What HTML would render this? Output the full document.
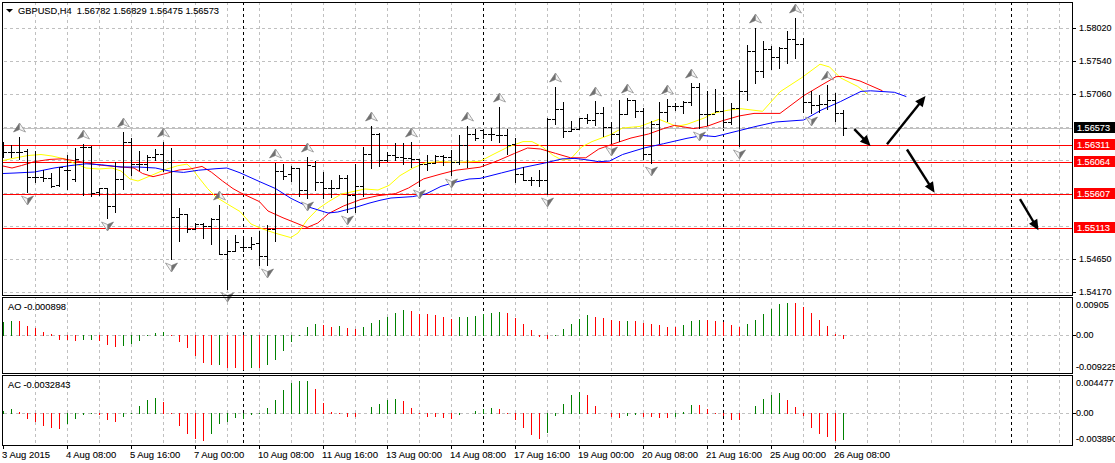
<!DOCTYPE html><html><head><meta charset="utf-8"><style>html,body{margin:0;padding:0;background:#fff;width:1115px;height:463px;overflow:hidden}svg{display:block}text{font-family:"Liberation Sans",sans-serif;font-size:9.3px;fill:#000;stroke:#000;stroke-width:0.1px}</style></head><body>
<svg width="1115" height="463" viewBox="0 0 1115 463">
<rect width="1115" height="463" fill="#fff"/>
<path d="M35.5 3V5M35.5 8V11M35.5 14V17M35.5 20V23M35.5 26V29M35.5 32V35M35.5 38V41M35.5 44V47M35.5 50V53M35.5 56V59M35.5 62V65M35.5 68V71M35.5 74V77M35.5 80V83M35.5 86V89M35.5 92V95M35.5 98V101M35.5 104V107M35.5 110V113M35.5 116V119M35.5 122V125M35.5 128V131M35.5 134V137M35.5 140V143M35.5 146V149M35.5 152V155M35.5 158V161M35.5 164V167M35.5 170V173M35.5 176V179M35.5 182V185M35.5 188V191M35.5 194V197M35.5 200V203M35.5 206V209M35.5 212V215M35.5 218V221M35.5 224V227M35.5 230V233M35.5 236V239M35.5 242V245M35.5 248V251M35.5 254V257M35.5 260V263M35.5 266V269M35.5 272V275M35.5 278V281M35.5 284V287M35.5 290V293M67.5 3V5M67.5 8V11M67.5 14V17M67.5 20V23M67.5 26V29M67.5 32V35M67.5 38V41M67.5 44V47M67.5 50V53M67.5 56V59M67.5 62V65M67.5 68V71M67.5 74V77M67.5 80V83M67.5 86V89M67.5 92V95M67.5 98V101M67.5 104V107M67.5 110V113M67.5 116V119M67.5 122V125M67.5 128V131M67.5 134V137M67.5 140V143M67.5 146V149M67.5 152V155M67.5 158V161M67.5 164V167M67.5 170V173M67.5 176V179M67.5 182V185M67.5 188V191M67.5 194V197M67.5 200V203M67.5 206V209M67.5 212V215M67.5 218V221M67.5 224V227M67.5 230V233M67.5 236V239M67.5 242V245M67.5 248V251M67.5 254V257M67.5 260V263M67.5 266V269M67.5 272V275M67.5 278V281M67.5 284V287M67.5 290V293M99.5 3V5M99.5 8V11M99.5 14V17M99.5 20V23M99.5 26V29M99.5 32V35M99.5 38V41M99.5 44V47M99.5 50V53M99.5 56V59M99.5 62V65M99.5 68V71M99.5 74V77M99.5 80V83M99.5 86V89M99.5 92V95M99.5 98V101M99.5 104V107M99.5 110V113M99.5 116V119M99.5 122V125M99.5 128V131M99.5 134V137M99.5 140V143M99.5 146V149M99.5 152V155M99.5 158V161M99.5 164V167M99.5 170V173M99.5 176V179M99.5 182V185M99.5 188V191M99.5 194V197M99.5 200V203M99.5 206V209M99.5 212V215M99.5 218V221M99.5 224V227M99.5 230V233M99.5 236V239M99.5 242V245M99.5 248V251M99.5 254V257M99.5 260V263M99.5 266V269M99.5 272V275M99.5 278V281M99.5 284V287M99.5 290V293M131.5 3V5M131.5 8V11M131.5 14V17M131.5 20V23M131.5 26V29M131.5 32V35M131.5 38V41M131.5 44V47M131.5 50V53M131.5 56V59M131.5 62V65M131.5 68V71M131.5 74V77M131.5 80V83M131.5 86V89M131.5 92V95M131.5 98V101M131.5 104V107M131.5 110V113M131.5 116V119M131.5 122V125M131.5 128V131M131.5 134V137M131.5 140V143M131.5 146V149M131.5 152V155M131.5 158V161M131.5 164V167M131.5 170V173M131.5 176V179M131.5 182V185M131.5 188V191M131.5 194V197M131.5 200V203M131.5 206V209M131.5 212V215M131.5 218V221M131.5 224V227M131.5 230V233M131.5 236V239M131.5 242V245M131.5 248V251M131.5 254V257M131.5 260V263M131.5 266V269M131.5 272V275M131.5 278V281M131.5 284V287M131.5 290V293M163.5 3V5M163.5 8V11M163.5 14V17M163.5 20V23M163.5 26V29M163.5 32V35M163.5 38V41M163.5 44V47M163.5 50V53M163.5 56V59M163.5 62V65M163.5 68V71M163.5 74V77M163.5 80V83M163.5 86V89M163.5 92V95M163.5 98V101M163.5 104V107M163.5 110V113M163.5 116V119M163.5 122V125M163.5 128V131M163.5 134V137M163.5 140V143M163.5 146V149M163.5 152V155M163.5 158V161M163.5 164V167M163.5 170V173M163.5 176V179M163.5 182V185M163.5 188V191M163.5 194V197M163.5 200V203M163.5 206V209M163.5 212V215M163.5 218V221M163.5 224V227M163.5 230V233M163.5 236V239M163.5 242V245M163.5 248V251M163.5 254V257M163.5 260V263M163.5 266V269M163.5 272V275M163.5 278V281M163.5 284V287M163.5 290V293M195.5 3V5M195.5 8V11M195.5 14V17M195.5 20V23M195.5 26V29M195.5 32V35M195.5 38V41M195.5 44V47M195.5 50V53M195.5 56V59M195.5 62V65M195.5 68V71M195.5 74V77M195.5 80V83M195.5 86V89M195.5 92V95M195.5 98V101M195.5 104V107M195.5 110V113M195.5 116V119M195.5 122V125M195.5 128V131M195.5 134V137M195.5 140V143M195.5 146V149M195.5 152V155M195.5 158V161M195.5 164V167M195.5 170V173M195.5 176V179M195.5 182V185M195.5 188V191M195.5 194V197M195.5 200V203M195.5 206V209M195.5 212V215M195.5 218V221M195.5 224V227M195.5 230V233M195.5 236V239M195.5 242V245M195.5 248V251M195.5 254V257M195.5 260V263M195.5 266V269M195.5 272V275M195.5 278V281M195.5 284V287M195.5 290V293M227.5 3V5M227.5 8V11M227.5 14V17M227.5 20V23M227.5 26V29M227.5 32V35M227.5 38V41M227.5 44V47M227.5 50V53M227.5 56V59M227.5 62V65M227.5 68V71M227.5 74V77M227.5 80V83M227.5 86V89M227.5 92V95M227.5 98V101M227.5 104V107M227.5 110V113M227.5 116V119M227.5 122V125M227.5 128V131M227.5 134V137M227.5 140V143M227.5 146V149M227.5 152V155M227.5 158V161M227.5 164V167M227.5 170V173M227.5 176V179M227.5 182V185M227.5 188V191M227.5 194V197M227.5 200V203M227.5 206V209M227.5 212V215M227.5 218V221M227.5 224V227M227.5 230V233M227.5 236V239M227.5 242V245M227.5 248V251M227.5 254V257M227.5 260V263M227.5 266V269M227.5 272V275M227.5 278V281M227.5 284V287M227.5 290V293M259.5 3V5M259.5 8V11M259.5 14V17M259.5 20V23M259.5 26V29M259.5 32V35M259.5 38V41M259.5 44V47M259.5 50V53M259.5 56V59M259.5 62V65M259.5 68V71M259.5 74V77M259.5 80V83M259.5 86V89M259.5 92V95M259.5 98V101M259.5 104V107M259.5 110V113M259.5 116V119M259.5 122V125M259.5 128V131M259.5 134V137M259.5 140V143M259.5 146V149M259.5 152V155M259.5 158V161M259.5 164V167M259.5 170V173M259.5 176V179M259.5 182V185M259.5 188V191M259.5 194V197M259.5 200V203M259.5 206V209M259.5 212V215M259.5 218V221M259.5 224V227M259.5 230V233M259.5 236V239M259.5 242V245M259.5 248V251M259.5 254V257M259.5 260V263M259.5 266V269M259.5 272V275M259.5 278V281M259.5 284V287M259.5 290V293M291.5 3V5M291.5 8V11M291.5 14V17M291.5 20V23M291.5 26V29M291.5 32V35M291.5 38V41M291.5 44V47M291.5 50V53M291.5 56V59M291.5 62V65M291.5 68V71M291.5 74V77M291.5 80V83M291.5 86V89M291.5 92V95M291.5 98V101M291.5 104V107M291.5 110V113M291.5 116V119M291.5 122V125M291.5 128V131M291.5 134V137M291.5 140V143M291.5 146V149M291.5 152V155M291.5 158V161M291.5 164V167M291.5 170V173M291.5 176V179M291.5 182V185M291.5 188V191M291.5 194V197M291.5 200V203M291.5 206V209M291.5 212V215M291.5 218V221M291.5 224V227M291.5 230V233M291.5 236V239M291.5 242V245M291.5 248V251M291.5 254V257M291.5 260V263M291.5 266V269M291.5 272V275M291.5 278V281M291.5 284V287M291.5 290V293M323.5 3V5M323.5 8V11M323.5 14V17M323.5 20V23M323.5 26V29M323.5 32V35M323.5 38V41M323.5 44V47M323.5 50V53M323.5 56V59M323.5 62V65M323.5 68V71M323.5 74V77M323.5 80V83M323.5 86V89M323.5 92V95M323.5 98V101M323.5 104V107M323.5 110V113M323.5 116V119M323.5 122V125M323.5 128V131M323.5 134V137M323.5 140V143M323.5 146V149M323.5 152V155M323.5 158V161M323.5 164V167M323.5 170V173M323.5 176V179M323.5 182V185M323.5 188V191M323.5 194V197M323.5 200V203M323.5 206V209M323.5 212V215M323.5 218V221M323.5 224V227M323.5 230V233M323.5 236V239M323.5 242V245M323.5 248V251M323.5 254V257M323.5 260V263M323.5 266V269M323.5 272V275M323.5 278V281M323.5 284V287M323.5 290V293M355.5 3V5M355.5 8V11M355.5 14V17M355.5 20V23M355.5 26V29M355.5 32V35M355.5 38V41M355.5 44V47M355.5 50V53M355.5 56V59M355.5 62V65M355.5 68V71M355.5 74V77M355.5 80V83M355.5 86V89M355.5 92V95M355.5 98V101M355.5 104V107M355.5 110V113M355.5 116V119M355.5 122V125M355.5 128V131M355.5 134V137M355.5 140V143M355.5 146V149M355.5 152V155M355.5 158V161M355.5 164V167M355.5 170V173M355.5 176V179M355.5 182V185M355.5 188V191M355.5 194V197M355.5 200V203M355.5 206V209M355.5 212V215M355.5 218V221M355.5 224V227M355.5 230V233M355.5 236V239M355.5 242V245M355.5 248V251M355.5 254V257M355.5 260V263M355.5 266V269M355.5 272V275M355.5 278V281M355.5 284V287M355.5 290V293M387.5 3V5M387.5 8V11M387.5 14V17M387.5 20V23M387.5 26V29M387.5 32V35M387.5 38V41M387.5 44V47M387.5 50V53M387.5 56V59M387.5 62V65M387.5 68V71M387.5 74V77M387.5 80V83M387.5 86V89M387.5 92V95M387.5 98V101M387.5 104V107M387.5 110V113M387.5 116V119M387.5 122V125M387.5 128V131M387.5 134V137M387.5 140V143M387.5 146V149M387.5 152V155M387.5 158V161M387.5 164V167M387.5 170V173M387.5 176V179M387.5 182V185M387.5 188V191M387.5 194V197M387.5 200V203M387.5 206V209M387.5 212V215M387.5 218V221M387.5 224V227M387.5 230V233M387.5 236V239M387.5 242V245M387.5 248V251M387.5 254V257M387.5 260V263M387.5 266V269M387.5 272V275M387.5 278V281M387.5 284V287M387.5 290V293M419.5 3V5M419.5 8V11M419.5 14V17M419.5 20V23M419.5 26V29M419.5 32V35M419.5 38V41M419.5 44V47M419.5 50V53M419.5 56V59M419.5 62V65M419.5 68V71M419.5 74V77M419.5 80V83M419.5 86V89M419.5 92V95M419.5 98V101M419.5 104V107M419.5 110V113M419.5 116V119M419.5 122V125M419.5 128V131M419.5 134V137M419.5 140V143M419.5 146V149M419.5 152V155M419.5 158V161M419.5 164V167M419.5 170V173M419.5 176V179M419.5 182V185M419.5 188V191M419.5 194V197M419.5 200V203M419.5 206V209M419.5 212V215M419.5 218V221M419.5 224V227M419.5 230V233M419.5 236V239M419.5 242V245M419.5 248V251M419.5 254V257M419.5 260V263M419.5 266V269M419.5 272V275M419.5 278V281M419.5 284V287M419.5 290V293M451.5 3V5M451.5 8V11M451.5 14V17M451.5 20V23M451.5 26V29M451.5 32V35M451.5 38V41M451.5 44V47M451.5 50V53M451.5 56V59M451.5 62V65M451.5 68V71M451.5 74V77M451.5 80V83M451.5 86V89M451.5 92V95M451.5 98V101M451.5 104V107M451.5 110V113M451.5 116V119M451.5 122V125M451.5 128V131M451.5 134V137M451.5 140V143M451.5 146V149M451.5 152V155M451.5 158V161M451.5 164V167M451.5 170V173M451.5 176V179M451.5 182V185M451.5 188V191M451.5 194V197M451.5 200V203M451.5 206V209M451.5 212V215M451.5 218V221M451.5 224V227M451.5 230V233M451.5 236V239M451.5 242V245M451.5 248V251M451.5 254V257M451.5 260V263M451.5 266V269M451.5 272V275M451.5 278V281M451.5 284V287M451.5 290V293M483.5 3V5M483.5 8V11M483.5 14V17M483.5 20V23M483.5 26V29M483.5 32V35M483.5 38V41M483.5 44V47M483.5 50V53M483.5 56V59M483.5 62V65M483.5 68V71M483.5 74V77M483.5 80V83M483.5 86V89M483.5 92V95M483.5 98V101M483.5 104V107M483.5 110V113M483.5 116V119M483.5 122V125M483.5 128V131M483.5 134V137M483.5 140V143M483.5 146V149M483.5 152V155M483.5 158V161M483.5 164V167M483.5 170V173M483.5 176V179M483.5 182V185M483.5 188V191M483.5 194V197M483.5 200V203M483.5 206V209M483.5 212V215M483.5 218V221M483.5 224V227M483.5 230V233M483.5 236V239M483.5 242V245M483.5 248V251M483.5 254V257M483.5 260V263M483.5 266V269M483.5 272V275M483.5 278V281M483.5 284V287M483.5 290V293M515.5 3V5M515.5 8V11M515.5 14V17M515.5 20V23M515.5 26V29M515.5 32V35M515.5 38V41M515.5 44V47M515.5 50V53M515.5 56V59M515.5 62V65M515.5 68V71M515.5 74V77M515.5 80V83M515.5 86V89M515.5 92V95M515.5 98V101M515.5 104V107M515.5 110V113M515.5 116V119M515.5 122V125M515.5 128V131M515.5 134V137M515.5 140V143M515.5 146V149M515.5 152V155M515.5 158V161M515.5 164V167M515.5 170V173M515.5 176V179M515.5 182V185M515.5 188V191M515.5 194V197M515.5 200V203M515.5 206V209M515.5 212V215M515.5 218V221M515.5 224V227M515.5 230V233M515.5 236V239M515.5 242V245M515.5 248V251M515.5 254V257M515.5 260V263M515.5 266V269M515.5 272V275M515.5 278V281M515.5 284V287M515.5 290V293M547.5 3V5M547.5 8V11M547.5 14V17M547.5 20V23M547.5 26V29M547.5 32V35M547.5 38V41M547.5 44V47M547.5 50V53M547.5 56V59M547.5 62V65M547.5 68V71M547.5 74V77M547.5 80V83M547.5 86V89M547.5 92V95M547.5 98V101M547.5 104V107M547.5 110V113M547.5 116V119M547.5 122V125M547.5 128V131M547.5 134V137M547.5 140V143M547.5 146V149M547.5 152V155M547.5 158V161M547.5 164V167M547.5 170V173M547.5 176V179M547.5 182V185M547.5 188V191M547.5 194V197M547.5 200V203M547.5 206V209M547.5 212V215M547.5 218V221M547.5 224V227M547.5 230V233M547.5 236V239M547.5 242V245M547.5 248V251M547.5 254V257M547.5 260V263M547.5 266V269M547.5 272V275M547.5 278V281M547.5 284V287M547.5 290V293M579.5 3V5M579.5 8V11M579.5 14V17M579.5 20V23M579.5 26V29M579.5 32V35M579.5 38V41M579.5 44V47M579.5 50V53M579.5 56V59M579.5 62V65M579.5 68V71M579.5 74V77M579.5 80V83M579.5 86V89M579.5 92V95M579.5 98V101M579.5 104V107M579.5 110V113M579.5 116V119M579.5 122V125M579.5 128V131M579.5 134V137M579.5 140V143M579.5 146V149M579.5 152V155M579.5 158V161M579.5 164V167M579.5 170V173M579.5 176V179M579.5 182V185M579.5 188V191M579.5 194V197M579.5 200V203M579.5 206V209M579.5 212V215M579.5 218V221M579.5 224V227M579.5 230V233M579.5 236V239M579.5 242V245M579.5 248V251M579.5 254V257M579.5 260V263M579.5 266V269M579.5 272V275M579.5 278V281M579.5 284V287M579.5 290V293M611.5 3V5M611.5 8V11M611.5 14V17M611.5 20V23M611.5 26V29M611.5 32V35M611.5 38V41M611.5 44V47M611.5 50V53M611.5 56V59M611.5 62V65M611.5 68V71M611.5 74V77M611.5 80V83M611.5 86V89M611.5 92V95M611.5 98V101M611.5 104V107M611.5 110V113M611.5 116V119M611.5 122V125M611.5 128V131M611.5 134V137M611.5 140V143M611.5 146V149M611.5 152V155M611.5 158V161M611.5 164V167M611.5 170V173M611.5 176V179M611.5 182V185M611.5 188V191M611.5 194V197M611.5 200V203M611.5 206V209M611.5 212V215M611.5 218V221M611.5 224V227M611.5 230V233M611.5 236V239M611.5 242V245M611.5 248V251M611.5 254V257M611.5 260V263M611.5 266V269M611.5 272V275M611.5 278V281M611.5 284V287M611.5 290V293M643.5 3V5M643.5 8V11M643.5 14V17M643.5 20V23M643.5 26V29M643.5 32V35M643.5 38V41M643.5 44V47M643.5 50V53M643.5 56V59M643.5 62V65M643.5 68V71M643.5 74V77M643.5 80V83M643.5 86V89M643.5 92V95M643.5 98V101M643.5 104V107M643.5 110V113M643.5 116V119M643.5 122V125M643.5 128V131M643.5 134V137M643.5 140V143M643.5 146V149M643.5 152V155M643.5 158V161M643.5 164V167M643.5 170V173M643.5 176V179M643.5 182V185M643.5 188V191M643.5 194V197M643.5 200V203M643.5 206V209M643.5 212V215M643.5 218V221M643.5 224V227M643.5 230V233M643.5 236V239M643.5 242V245M643.5 248V251M643.5 254V257M643.5 260V263M643.5 266V269M643.5 272V275M643.5 278V281M643.5 284V287M643.5 290V293M675.5 3V5M675.5 8V11M675.5 14V17M675.5 20V23M675.5 26V29M675.5 32V35M675.5 38V41M675.5 44V47M675.5 50V53M675.5 56V59M675.5 62V65M675.5 68V71M675.5 74V77M675.5 80V83M675.5 86V89M675.5 92V95M675.5 98V101M675.5 104V107M675.5 110V113M675.5 116V119M675.5 122V125M675.5 128V131M675.5 134V137M675.5 140V143M675.5 146V149M675.5 152V155M675.5 158V161M675.5 164V167M675.5 170V173M675.5 176V179M675.5 182V185M675.5 188V191M675.5 194V197M675.5 200V203M675.5 206V209M675.5 212V215M675.5 218V221M675.5 224V227M675.5 230V233M675.5 236V239M675.5 242V245M675.5 248V251M675.5 254V257M675.5 260V263M675.5 266V269M675.5 272V275M675.5 278V281M675.5 284V287M675.5 290V293M707.5 3V5M707.5 8V11M707.5 14V17M707.5 20V23M707.5 26V29M707.5 32V35M707.5 38V41M707.5 44V47M707.5 50V53M707.5 56V59M707.5 62V65M707.5 68V71M707.5 74V77M707.5 80V83M707.5 86V89M707.5 92V95M707.5 98V101M707.5 104V107M707.5 110V113M707.5 116V119M707.5 122V125M707.5 128V131M707.5 134V137M707.5 140V143M707.5 146V149M707.5 152V155M707.5 158V161M707.5 164V167M707.5 170V173M707.5 176V179M707.5 182V185M707.5 188V191M707.5 194V197M707.5 200V203M707.5 206V209M707.5 212V215M707.5 218V221M707.5 224V227M707.5 230V233M707.5 236V239M707.5 242V245M707.5 248V251M707.5 254V257M707.5 260V263M707.5 266V269M707.5 272V275M707.5 278V281M707.5 284V287M707.5 290V293M739.5 3V5M739.5 8V11M739.5 14V17M739.5 20V23M739.5 26V29M739.5 32V35M739.5 38V41M739.5 44V47M739.5 50V53M739.5 56V59M739.5 62V65M739.5 68V71M739.5 74V77M739.5 80V83M739.5 86V89M739.5 92V95M739.5 98V101M739.5 104V107M739.5 110V113M739.5 116V119M739.5 122V125M739.5 128V131M739.5 134V137M739.5 140V143M739.5 146V149M739.5 152V155M739.5 158V161M739.5 164V167M739.5 170V173M739.5 176V179M739.5 182V185M739.5 188V191M739.5 194V197M739.5 200V203M739.5 206V209M739.5 212V215M739.5 218V221M739.5 224V227M739.5 230V233M739.5 236V239M739.5 242V245M739.5 248V251M739.5 254V257M739.5 260V263M739.5 266V269M739.5 272V275M739.5 278V281M739.5 284V287M739.5 290V293M771.5 3V5M771.5 8V11M771.5 14V17M771.5 20V23M771.5 26V29M771.5 32V35M771.5 38V41M771.5 44V47M771.5 50V53M771.5 56V59M771.5 62V65M771.5 68V71M771.5 74V77M771.5 80V83M771.5 86V89M771.5 92V95M771.5 98V101M771.5 104V107M771.5 110V113M771.5 116V119M771.5 122V125M771.5 128V131M771.5 134V137M771.5 140V143M771.5 146V149M771.5 152V155M771.5 158V161M771.5 164V167M771.5 170V173M771.5 176V179M771.5 182V185M771.5 188V191M771.5 194V197M771.5 200V203M771.5 206V209M771.5 212V215M771.5 218V221M771.5 224V227M771.5 230V233M771.5 236V239M771.5 242V245M771.5 248V251M771.5 254V257M771.5 260V263M771.5 266V269M771.5 272V275M771.5 278V281M771.5 284V287M771.5 290V293M803.5 3V5M803.5 8V11M803.5 14V17M803.5 20V23M803.5 26V29M803.5 32V35M803.5 38V41M803.5 44V47M803.5 50V53M803.5 56V59M803.5 62V65M803.5 68V71M803.5 74V77M803.5 80V83M803.5 86V89M803.5 92V95M803.5 98V101M803.5 104V107M803.5 110V113M803.5 116V119M803.5 122V125M803.5 128V131M803.5 134V137M803.5 140V143M803.5 146V149M803.5 152V155M803.5 158V161M803.5 164V167M803.5 170V173M803.5 176V179M803.5 182V185M803.5 188V191M803.5 194V197M803.5 200V203M803.5 206V209M803.5 212V215M803.5 218V221M803.5 224V227M803.5 230V233M803.5 236V239M803.5 242V245M803.5 248V251M803.5 254V257M803.5 260V263M803.5 266V269M803.5 272V275M803.5 278V281M803.5 284V287M803.5 290V293M835.5 3V5M835.5 8V11M835.5 14V17M835.5 20V23M835.5 26V29M835.5 32V35M835.5 38V41M835.5 44V47M835.5 50V53M835.5 56V59M835.5 62V65M835.5 68V71M835.5 74V77M835.5 80V83M835.5 86V89M835.5 92V95M835.5 98V101M835.5 104V107M835.5 110V113M835.5 116V119M835.5 122V125M835.5 128V131M835.5 134V137M835.5 140V143M835.5 146V149M835.5 152V155M835.5 158V161M835.5 164V167M835.5 170V173M835.5 176V179M835.5 182V185M835.5 188V191M835.5 194V197M835.5 200V203M835.5 206V209M835.5 212V215M835.5 218V221M835.5 224V227M835.5 230V233M835.5 236V239M835.5 242V245M835.5 248V251M835.5 254V257M835.5 260V263M835.5 266V269M835.5 272V275M835.5 278V281M835.5 284V287M835.5 290V293M867.5 3V5M867.5 8V11M867.5 14V17M867.5 20V23M867.5 26V29M867.5 32V35M867.5 38V41M867.5 44V47M867.5 50V53M867.5 56V59M867.5 62V65M867.5 68V71M867.5 74V77M867.5 80V83M867.5 86V89M867.5 92V95M867.5 98V101M867.5 104V107M867.5 110V113M867.5 116V119M867.5 122V125M867.5 128V131M867.5 134V137M867.5 140V143M867.5 146V149M867.5 152V155M867.5 158V161M867.5 164V167M867.5 170V173M867.5 176V179M867.5 182V185M867.5 188V191M867.5 194V197M867.5 200V203M867.5 206V209M867.5 212V215M867.5 218V221M867.5 224V227M867.5 230V233M867.5 236V239M867.5 242V245M867.5 248V251M867.5 254V257M867.5 260V263M867.5 266V269M867.5 272V275M867.5 278V281M867.5 284V287M867.5 290V293M899.5 3V5M899.5 8V11M899.5 14V17M899.5 20V23M899.5 26V29M899.5 32V35M899.5 38V41M899.5 44V47M899.5 50V53M899.5 56V59M899.5 62V65M899.5 68V71M899.5 74V77M899.5 80V83M899.5 86V89M899.5 92V95M899.5 98V101M899.5 104V107M899.5 110V113M899.5 116V119M899.5 122V125M899.5 128V131M899.5 134V137M899.5 140V143M899.5 146V149M899.5 152V155M899.5 158V161M899.5 164V167M899.5 170V173M899.5 176V179M899.5 182V185M899.5 188V191M899.5 194V197M899.5 200V203M899.5 206V209M899.5 212V215M899.5 218V221M899.5 224V227M899.5 230V233M899.5 236V239M899.5 242V245M899.5 248V251M899.5 254V257M899.5 260V263M899.5 266V269M899.5 272V275M899.5 278V281M899.5 284V287M899.5 290V293M931.5 3V5M931.5 8V11M931.5 14V17M931.5 20V23M931.5 26V29M931.5 32V35M931.5 38V41M931.5 44V47M931.5 50V53M931.5 56V59M931.5 62V65M931.5 68V71M931.5 74V77M931.5 80V83M931.5 86V89M931.5 92V95M931.5 98V101M931.5 104V107M931.5 110V113M931.5 116V119M931.5 122V125M931.5 128V131M931.5 134V137M931.5 140V143M931.5 146V149M931.5 152V155M931.5 158V161M931.5 164V167M931.5 170V173M931.5 176V179M931.5 182V185M931.5 188V191M931.5 194V197M931.5 200V203M931.5 206V209M931.5 212V215M931.5 218V221M931.5 224V227M931.5 230V233M931.5 236V239M931.5 242V245M931.5 248V251M931.5 254V257M931.5 260V263M931.5 266V269M931.5 272V275M931.5 278V281M931.5 284V287M931.5 290V293M963.5 3V5M963.5 8V11M963.5 14V17M963.5 20V23M963.5 26V29M963.5 32V35M963.5 38V41M963.5 44V47M963.5 50V53M963.5 56V59M963.5 62V65M963.5 68V71M963.5 74V77M963.5 80V83M963.5 86V89M963.5 92V95M963.5 98V101M963.5 104V107M963.5 110V113M963.5 116V119M963.5 122V125M963.5 128V131M963.5 134V137M963.5 140V143M963.5 146V149M963.5 152V155M963.5 158V161M963.5 164V167M963.5 170V173M963.5 176V179M963.5 182V185M963.5 188V191M963.5 194V197M963.5 200V203M963.5 206V209M963.5 212V215M963.5 218V221M963.5 224V227M963.5 230V233M963.5 236V239M963.5 242V245M963.5 248V251M963.5 254V257M963.5 260V263M963.5 266V269M963.5 272V275M963.5 278V281M963.5 284V287M963.5 290V293M995.5 3V5M995.5 8V11M995.5 14V17M995.5 20V23M995.5 26V29M995.5 32V35M995.5 38V41M995.5 44V47M995.5 50V53M995.5 56V59M995.5 62V65M995.5 68V71M995.5 74V77M995.5 80V83M995.5 86V89M995.5 92V95M995.5 98V101M995.5 104V107M995.5 110V113M995.5 116V119M995.5 122V125M995.5 128V131M995.5 134V137M995.5 140V143M995.5 146V149M995.5 152V155M995.5 158V161M995.5 164V167M995.5 170V173M995.5 176V179M995.5 182V185M995.5 188V191M995.5 194V197M995.5 200V203M995.5 206V209M995.5 212V215M995.5 218V221M995.5 224V227M995.5 230V233M995.5 236V239M995.5 242V245M995.5 248V251M995.5 254V257M995.5 260V263M995.5 266V269M995.5 272V275M995.5 278V281M995.5 284V287M995.5 290V293M1027.5 3V5M1027.5 8V11M1027.5 14V17M1027.5 20V23M1027.5 26V29M1027.5 32V35M1027.5 38V41M1027.5 44V47M1027.5 50V53M1027.5 56V59M1027.5 62V65M1027.5 68V71M1027.5 74V77M1027.5 80V83M1027.5 86V89M1027.5 92V95M1027.5 98V101M1027.5 104V107M1027.5 110V113M1027.5 116V119M1027.5 122V125M1027.5 128V131M1027.5 134V137M1027.5 140V143M1027.5 146V149M1027.5 152V155M1027.5 158V161M1027.5 164V167M1027.5 170V173M1027.5 176V179M1027.5 182V185M1027.5 188V191M1027.5 194V197M1027.5 200V203M1027.5 206V209M1027.5 212V215M1027.5 218V221M1027.5 224V227M1027.5 230V233M1027.5 236V239M1027.5 242V245M1027.5 248V251M1027.5 254V257M1027.5 260V263M1027.5 266V269M1027.5 272V275M1027.5 278V281M1027.5 284V287M1027.5 290V293M1059.5 3V5M1059.5 8V11M1059.5 14V17M1059.5 20V23M1059.5 26V29M1059.5 32V35M1059.5 38V41M1059.5 44V47M1059.5 50V53M1059.5 56V59M1059.5 62V65M1059.5 68V71M1059.5 74V77M1059.5 80V83M1059.5 86V89M1059.5 92V95M1059.5 98V101M1059.5 104V107M1059.5 110V113M1059.5 116V119M1059.5 122V125M1059.5 128V131M1059.5 134V137M1059.5 140V143M1059.5 146V149M1059.5 152V155M1059.5 158V161M1059.5 164V167M1059.5 170V173M1059.5 176V179M1059.5 182V185M1059.5 188V191M1059.5 194V197M1059.5 200V203M1059.5 206V209M1059.5 212V215M1059.5 218V221M1059.5 224V227M1059.5 230V233M1059.5 236V239M1059.5 242V245M1059.5 248V251M1059.5 254V257M1059.5 260V263M1059.5 266V269M1059.5 272V275M1059.5 278V281M1059.5 284V287M1059.5 290V293M35.5 298V299M35.5 302V305M35.5 308V311M35.5 314V317M35.5 320V323M35.5 326V329M35.5 332V335M35.5 338V341M35.5 344V347M35.5 350V353M35.5 356V359M35.5 362V365M35.5 368V371M67.5 298V299M67.5 302V305M67.5 308V311M67.5 314V317M67.5 320V323M67.5 326V329M67.5 332V335M67.5 338V341M67.5 344V347M67.5 350V353M67.5 356V359M67.5 362V365M67.5 368V371M99.5 298V299M99.5 302V305M99.5 308V311M99.5 314V317M99.5 320V323M99.5 326V329M99.5 332V335M99.5 338V341M99.5 344V347M99.5 350V353M99.5 356V359M99.5 362V365M99.5 368V371M131.5 298V299M131.5 302V305M131.5 308V311M131.5 314V317M131.5 320V323M131.5 326V329M131.5 332V335M131.5 338V341M131.5 344V347M131.5 350V353M131.5 356V359M131.5 362V365M131.5 368V371M163.5 298V299M163.5 302V305M163.5 308V311M163.5 314V317M163.5 320V323M163.5 326V329M163.5 332V335M163.5 338V341M163.5 344V347M163.5 350V353M163.5 356V359M163.5 362V365M163.5 368V371M195.5 298V299M195.5 302V305M195.5 308V311M195.5 314V317M195.5 320V323M195.5 326V329M195.5 332V335M195.5 338V341M195.5 344V347M195.5 350V353M195.5 356V359M195.5 362V365M195.5 368V371M227.5 298V299M227.5 302V305M227.5 308V311M227.5 314V317M227.5 320V323M227.5 326V329M227.5 332V335M227.5 338V341M227.5 344V347M227.5 350V353M227.5 356V359M227.5 362V365M227.5 368V371M259.5 298V299M259.5 302V305M259.5 308V311M259.5 314V317M259.5 320V323M259.5 326V329M259.5 332V335M259.5 338V341M259.5 344V347M259.5 350V353M259.5 356V359M259.5 362V365M259.5 368V371M291.5 298V299M291.5 302V305M291.5 308V311M291.5 314V317M291.5 320V323M291.5 326V329M291.5 332V335M291.5 338V341M291.5 344V347M291.5 350V353M291.5 356V359M291.5 362V365M291.5 368V371M323.5 298V299M323.5 302V305M323.5 308V311M323.5 314V317M323.5 320V323M323.5 326V329M323.5 332V335M323.5 338V341M323.5 344V347M323.5 350V353M323.5 356V359M323.5 362V365M323.5 368V371M355.5 298V299M355.5 302V305M355.5 308V311M355.5 314V317M355.5 320V323M355.5 326V329M355.5 332V335M355.5 338V341M355.5 344V347M355.5 350V353M355.5 356V359M355.5 362V365M355.5 368V371M387.5 298V299M387.5 302V305M387.5 308V311M387.5 314V317M387.5 320V323M387.5 326V329M387.5 332V335M387.5 338V341M387.5 344V347M387.5 350V353M387.5 356V359M387.5 362V365M387.5 368V371M419.5 298V299M419.5 302V305M419.5 308V311M419.5 314V317M419.5 320V323M419.5 326V329M419.5 332V335M419.5 338V341M419.5 344V347M419.5 350V353M419.5 356V359M419.5 362V365M419.5 368V371M451.5 298V299M451.5 302V305M451.5 308V311M451.5 314V317M451.5 320V323M451.5 326V329M451.5 332V335M451.5 338V341M451.5 344V347M451.5 350V353M451.5 356V359M451.5 362V365M451.5 368V371M483.5 298V299M483.5 302V305M483.5 308V311M483.5 314V317M483.5 320V323M483.5 326V329M483.5 332V335M483.5 338V341M483.5 344V347M483.5 350V353M483.5 356V359M483.5 362V365M483.5 368V371M515.5 298V299M515.5 302V305M515.5 308V311M515.5 314V317M515.5 320V323M515.5 326V329M515.5 332V335M515.5 338V341M515.5 344V347M515.5 350V353M515.5 356V359M515.5 362V365M515.5 368V371M547.5 298V299M547.5 302V305M547.5 308V311M547.5 314V317M547.5 320V323M547.5 326V329M547.5 332V335M547.5 338V341M547.5 344V347M547.5 350V353M547.5 356V359M547.5 362V365M547.5 368V371M579.5 298V299M579.5 302V305M579.5 308V311M579.5 314V317M579.5 320V323M579.5 326V329M579.5 332V335M579.5 338V341M579.5 344V347M579.5 350V353M579.5 356V359M579.5 362V365M579.5 368V371M611.5 298V299M611.5 302V305M611.5 308V311M611.5 314V317M611.5 320V323M611.5 326V329M611.5 332V335M611.5 338V341M611.5 344V347M611.5 350V353M611.5 356V359M611.5 362V365M611.5 368V371M643.5 298V299M643.5 302V305M643.5 308V311M643.5 314V317M643.5 320V323M643.5 326V329M643.5 332V335M643.5 338V341M643.5 344V347M643.5 350V353M643.5 356V359M643.5 362V365M643.5 368V371M675.5 298V299M675.5 302V305M675.5 308V311M675.5 314V317M675.5 320V323M675.5 326V329M675.5 332V335M675.5 338V341M675.5 344V347M675.5 350V353M675.5 356V359M675.5 362V365M675.5 368V371M707.5 298V299M707.5 302V305M707.5 308V311M707.5 314V317M707.5 320V323M707.5 326V329M707.5 332V335M707.5 338V341M707.5 344V347M707.5 350V353M707.5 356V359M707.5 362V365M707.5 368V371M739.5 298V299M739.5 302V305M739.5 308V311M739.5 314V317M739.5 320V323M739.5 326V329M739.5 332V335M739.5 338V341M739.5 344V347M739.5 350V353M739.5 356V359M739.5 362V365M739.5 368V371M771.5 298V299M771.5 302V305M771.5 308V311M771.5 314V317M771.5 320V323M771.5 326V329M771.5 332V335M771.5 338V341M771.5 344V347M771.5 350V353M771.5 356V359M771.5 362V365M771.5 368V371M803.5 298V299M803.5 302V305M803.5 308V311M803.5 314V317M803.5 320V323M803.5 326V329M803.5 332V335M803.5 338V341M803.5 344V347M803.5 350V353M803.5 356V359M803.5 362V365M803.5 368V371M835.5 298V299M835.5 302V305M835.5 308V311M835.5 314V317M835.5 320V323M835.5 326V329M835.5 332V335M835.5 338V341M835.5 344V347M835.5 350V353M835.5 356V359M835.5 362V365M835.5 368V371M867.5 298V299M867.5 302V305M867.5 308V311M867.5 314V317M867.5 320V323M867.5 326V329M867.5 332V335M867.5 338V341M867.5 344V347M867.5 350V353M867.5 356V359M867.5 362V365M867.5 368V371M899.5 298V299M899.5 302V305M899.5 308V311M899.5 314V317M899.5 320V323M899.5 326V329M899.5 332V335M899.5 338V341M899.5 344V347M899.5 350V353M899.5 356V359M899.5 362V365M899.5 368V371M931.5 298V299M931.5 302V305M931.5 308V311M931.5 314V317M931.5 320V323M931.5 326V329M931.5 332V335M931.5 338V341M931.5 344V347M931.5 350V353M931.5 356V359M931.5 362V365M931.5 368V371M963.5 298V299M963.5 302V305M963.5 308V311M963.5 314V317M963.5 320V323M963.5 326V329M963.5 332V335M963.5 338V341M963.5 344V347M963.5 350V353M963.5 356V359M963.5 362V365M963.5 368V371M995.5 298V299M995.5 302V305M995.5 308V311M995.5 314V317M995.5 320V323M995.5 326V329M995.5 332V335M995.5 338V341M995.5 344V347M995.5 350V353M995.5 356V359M995.5 362V365M995.5 368V371M1027.5 298V299M1027.5 302V305M1027.5 308V311M1027.5 314V317M1027.5 320V323M1027.5 326V329M1027.5 332V335M1027.5 338V341M1027.5 344V347M1027.5 350V353M1027.5 356V359M1027.5 362V365M1027.5 368V371M1059.5 298V299M1059.5 302V305M1059.5 308V311M1059.5 314V317M1059.5 320V323M1059.5 326V329M1059.5 332V335M1059.5 338V341M1059.5 344V347M1059.5 350V353M1059.5 356V359M1059.5 362V365M1059.5 368V371M35.5 376V377M35.5 380V383M35.5 386V389M35.5 392V395M35.5 398V401M35.5 404V407M35.5 410V413M35.5 416V419M35.5 422V425M35.5 428V431M35.5 434V437M35.5 440V443M67.5 376V377M67.5 380V383M67.5 386V389M67.5 392V395M67.5 398V401M67.5 404V407M67.5 410V413M67.5 416V419M67.5 422V425M67.5 428V431M67.5 434V437M67.5 440V443M99.5 376V377M99.5 380V383M99.5 386V389M99.5 392V395M99.5 398V401M99.5 404V407M99.5 410V413M99.5 416V419M99.5 422V425M99.5 428V431M99.5 434V437M99.5 440V443M131.5 376V377M131.5 380V383M131.5 386V389M131.5 392V395M131.5 398V401M131.5 404V407M131.5 410V413M131.5 416V419M131.5 422V425M131.5 428V431M131.5 434V437M131.5 440V443M163.5 376V377M163.5 380V383M163.5 386V389M163.5 392V395M163.5 398V401M163.5 404V407M163.5 410V413M163.5 416V419M163.5 422V425M163.5 428V431M163.5 434V437M163.5 440V443M195.5 376V377M195.5 380V383M195.5 386V389M195.5 392V395M195.5 398V401M195.5 404V407M195.5 410V413M195.5 416V419M195.5 422V425M195.5 428V431M195.5 434V437M195.5 440V443M227.5 376V377M227.5 380V383M227.5 386V389M227.5 392V395M227.5 398V401M227.5 404V407M227.5 410V413M227.5 416V419M227.5 422V425M227.5 428V431M227.5 434V437M227.5 440V443M259.5 376V377M259.5 380V383M259.5 386V389M259.5 392V395M259.5 398V401M259.5 404V407M259.5 410V413M259.5 416V419M259.5 422V425M259.5 428V431M259.5 434V437M259.5 440V443M291.5 376V377M291.5 380V383M291.5 386V389M291.5 392V395M291.5 398V401M291.5 404V407M291.5 410V413M291.5 416V419M291.5 422V425M291.5 428V431M291.5 434V437M291.5 440V443M323.5 376V377M323.5 380V383M323.5 386V389M323.5 392V395M323.5 398V401M323.5 404V407M323.5 410V413M323.5 416V419M323.5 422V425M323.5 428V431M323.5 434V437M323.5 440V443M355.5 376V377M355.5 380V383M355.5 386V389M355.5 392V395M355.5 398V401M355.5 404V407M355.5 410V413M355.5 416V419M355.5 422V425M355.5 428V431M355.5 434V437M355.5 440V443M387.5 376V377M387.5 380V383M387.5 386V389M387.5 392V395M387.5 398V401M387.5 404V407M387.5 410V413M387.5 416V419M387.5 422V425M387.5 428V431M387.5 434V437M387.5 440V443M419.5 376V377M419.5 380V383M419.5 386V389M419.5 392V395M419.5 398V401M419.5 404V407M419.5 410V413M419.5 416V419M419.5 422V425M419.5 428V431M419.5 434V437M419.5 440V443M451.5 376V377M451.5 380V383M451.5 386V389M451.5 392V395M451.5 398V401M451.5 404V407M451.5 410V413M451.5 416V419M451.5 422V425M451.5 428V431M451.5 434V437M451.5 440V443M483.5 376V377M483.5 380V383M483.5 386V389M483.5 392V395M483.5 398V401M483.5 404V407M483.5 410V413M483.5 416V419M483.5 422V425M483.5 428V431M483.5 434V437M483.5 440V443M515.5 376V377M515.5 380V383M515.5 386V389M515.5 392V395M515.5 398V401M515.5 404V407M515.5 410V413M515.5 416V419M515.5 422V425M515.5 428V431M515.5 434V437M515.5 440V443M547.5 376V377M547.5 380V383M547.5 386V389M547.5 392V395M547.5 398V401M547.5 404V407M547.5 410V413M547.5 416V419M547.5 422V425M547.5 428V431M547.5 434V437M547.5 440V443M579.5 376V377M579.5 380V383M579.5 386V389M579.5 392V395M579.5 398V401M579.5 404V407M579.5 410V413M579.5 416V419M579.5 422V425M579.5 428V431M579.5 434V437M579.5 440V443M611.5 376V377M611.5 380V383M611.5 386V389M611.5 392V395M611.5 398V401M611.5 404V407M611.5 410V413M611.5 416V419M611.5 422V425M611.5 428V431M611.5 434V437M611.5 440V443M643.5 376V377M643.5 380V383M643.5 386V389M643.5 392V395M643.5 398V401M643.5 404V407M643.5 410V413M643.5 416V419M643.5 422V425M643.5 428V431M643.5 434V437M643.5 440V443M675.5 376V377M675.5 380V383M675.5 386V389M675.5 392V395M675.5 398V401M675.5 404V407M675.5 410V413M675.5 416V419M675.5 422V425M675.5 428V431M675.5 434V437M675.5 440V443M707.5 376V377M707.5 380V383M707.5 386V389M707.5 392V395M707.5 398V401M707.5 404V407M707.5 410V413M707.5 416V419M707.5 422V425M707.5 428V431M707.5 434V437M707.5 440V443M739.5 376V377M739.5 380V383M739.5 386V389M739.5 392V395M739.5 398V401M739.5 404V407M739.5 410V413M739.5 416V419M739.5 422V425M739.5 428V431M739.5 434V437M739.5 440V443M771.5 376V377M771.5 380V383M771.5 386V389M771.5 392V395M771.5 398V401M771.5 404V407M771.5 410V413M771.5 416V419M771.5 422V425M771.5 428V431M771.5 434V437M771.5 440V443M803.5 376V377M803.5 380V383M803.5 386V389M803.5 392V395M803.5 398V401M803.5 404V407M803.5 410V413M803.5 416V419M803.5 422V425M803.5 428V431M803.5 434V437M803.5 440V443M835.5 376V377M835.5 380V383M835.5 386V389M835.5 392V395M835.5 398V401M835.5 404V407M835.5 410V413M835.5 416V419M835.5 422V425M835.5 428V431M835.5 434V437M835.5 440V443M867.5 376V377M867.5 380V383M867.5 386V389M867.5 392V395M867.5 398V401M867.5 404V407M867.5 410V413M867.5 416V419M867.5 422V425M867.5 428V431M867.5 434V437M867.5 440V443M899.5 376V377M899.5 380V383M899.5 386V389M899.5 392V395M899.5 398V401M899.5 404V407M899.5 410V413M899.5 416V419M899.5 422V425M899.5 428V431M899.5 434V437M899.5 440V443M931.5 376V377M931.5 380V383M931.5 386V389M931.5 392V395M931.5 398V401M931.5 404V407M931.5 410V413M931.5 416V419M931.5 422V425M931.5 428V431M931.5 434V437M931.5 440V443M963.5 376V377M963.5 380V383M963.5 386V389M963.5 392V395M963.5 398V401M963.5 404V407M963.5 410V413M963.5 416V419M963.5 422V425M963.5 428V431M963.5 434V437M963.5 440V443M995.5 376V377M995.5 380V383M995.5 386V389M995.5 392V395M995.5 398V401M995.5 404V407M995.5 410V413M995.5 416V419M995.5 422V425M995.5 428V431M995.5 434V437M995.5 440V443M1027.5 376V377M1027.5 380V383M1027.5 386V389M1027.5 392V395M1027.5 398V401M1027.5 404V407M1027.5 410V413M1027.5 416V419M1027.5 422V425M1027.5 428V431M1027.5 434V437M1027.5 440V443M1059.5 376V377M1059.5 380V383M1059.5 386V389M1059.5 392V395M1059.5 398V401M1059.5 404V407M1059.5 410V413M1059.5 416V419M1059.5 422V425M1059.5 428V431M1059.5 434V437M1059.5 440V443" stroke="#c0c0c0" stroke-width="1" fill="none" shape-rendering="crispEdges"/>
<path d="M4 28.5H7M10 28.5H13M16 28.5H19M22 28.5H25M28 28.5H31M34 28.5H37M40 28.5H43M46 28.5H49M52 28.5H55M58 28.5H61M64 28.5H67M70 28.5H73M76 28.5H79M82 28.5H85M88 28.5H91M94 28.5H97M100 28.5H103M106 28.5H109M112 28.5H115M118 28.5H121M124 28.5H127M130 28.5H133M136 28.5H139M142 28.5H145M148 28.5H151M154 28.5H157M160 28.5H163M166 28.5H169M172 28.5H175M178 28.5H181M184 28.5H187M190 28.5H193M196 28.5H199M202 28.5H205M208 28.5H211M214 28.5H217M220 28.5H223M226 28.5H229M232 28.5H235M238 28.5H241M244 28.5H247M250 28.5H253M256 28.5H259M262 28.5H265M268 28.5H271M274 28.5H277M280 28.5H283M286 28.5H289M292 28.5H295M298 28.5H301M304 28.5H307M310 28.5H313M316 28.5H319M322 28.5H325M328 28.5H331M334 28.5H337M340 28.5H343M346 28.5H349M352 28.5H355M358 28.5H361M364 28.5H367M370 28.5H373M376 28.5H379M382 28.5H385M388 28.5H391M394 28.5H397M400 28.5H403M406 28.5H409M412 28.5H415M418 28.5H421M424 28.5H427M430 28.5H433M436 28.5H439M442 28.5H445M448 28.5H451M454 28.5H457M460 28.5H463M466 28.5H469M472 28.5H475M478 28.5H481M484 28.5H487M490 28.5H493M496 28.5H499M502 28.5H505M508 28.5H511M514 28.5H517M520 28.5H523M526 28.5H529M532 28.5H535M538 28.5H541M544 28.5H547M550 28.5H553M556 28.5H559M562 28.5H565M568 28.5H571M574 28.5H577M580 28.5H583M586 28.5H589M592 28.5H595M598 28.5H601M604 28.5H607M610 28.5H613M616 28.5H619M622 28.5H625M628 28.5H631M634 28.5H637M640 28.5H643M646 28.5H649M652 28.5H655M658 28.5H661M664 28.5H667M670 28.5H673M676 28.5H679M682 28.5H685M688 28.5H691M694 28.5H697M700 28.5H703M706 28.5H709M712 28.5H715M718 28.5H721M724 28.5H727M730 28.5H733M736 28.5H739M742 28.5H745M748 28.5H751M754 28.5H757M760 28.5H763M766 28.5H769M772 28.5H775M778 28.5H781M784 28.5H787M790 28.5H793M796 28.5H799M802 28.5H805M808 28.5H811M814 28.5H817M820 28.5H823M826 28.5H829M832 28.5H835M838 28.5H841M844 28.5H847M850 28.5H853M856 28.5H859M862 28.5H865M868 28.5H871M874 28.5H877M880 28.5H883M886 28.5H889M892 28.5H895M898 28.5H901M904 28.5H907M910 28.5H913M916 28.5H919M922 28.5H925M928 28.5H931M934 28.5H937M940 28.5H943M946 28.5H949M952 28.5H955M958 28.5H961M964 28.5H967M970 28.5H973M976 28.5H979M982 28.5H985M988 28.5H991M994 28.5H997M1000 28.5H1003M1006 28.5H1009M1012 28.5H1015M1018 28.5H1021M1024 28.5H1027M1030 28.5H1033M1036 28.5H1039M1042 28.5H1045M1048 28.5H1051M1054 28.5H1057M1060 28.5H1063M1066 28.5H1069M4 61.5H7M10 61.5H13M16 61.5H19M22 61.5H25M28 61.5H31M34 61.5H37M40 61.5H43M46 61.5H49M52 61.5H55M58 61.5H61M64 61.5H67M70 61.5H73M76 61.5H79M82 61.5H85M88 61.5H91M94 61.5H97M100 61.5H103M106 61.5H109M112 61.5H115M118 61.5H121M124 61.5H127M130 61.5H133M136 61.5H139M142 61.5H145M148 61.5H151M154 61.5H157M160 61.5H163M166 61.5H169M172 61.5H175M178 61.5H181M184 61.5H187M190 61.5H193M196 61.5H199M202 61.5H205M208 61.5H211M214 61.5H217M220 61.5H223M226 61.5H229M232 61.5H235M238 61.5H241M244 61.5H247M250 61.5H253M256 61.5H259M262 61.5H265M268 61.5H271M274 61.5H277M280 61.5H283M286 61.5H289M292 61.5H295M298 61.5H301M304 61.5H307M310 61.5H313M316 61.5H319M322 61.5H325M328 61.5H331M334 61.5H337M340 61.5H343M346 61.5H349M352 61.5H355M358 61.5H361M364 61.5H367M370 61.5H373M376 61.5H379M382 61.5H385M388 61.5H391M394 61.5H397M400 61.5H403M406 61.5H409M412 61.5H415M418 61.5H421M424 61.5H427M430 61.5H433M436 61.5H439M442 61.5H445M448 61.5H451M454 61.5H457M460 61.5H463M466 61.5H469M472 61.5H475M478 61.5H481M484 61.5H487M490 61.5H493M496 61.5H499M502 61.5H505M508 61.5H511M514 61.5H517M520 61.5H523M526 61.5H529M532 61.5H535M538 61.5H541M544 61.5H547M550 61.5H553M556 61.5H559M562 61.5H565M568 61.5H571M574 61.5H577M580 61.5H583M586 61.5H589M592 61.5H595M598 61.5H601M604 61.5H607M610 61.5H613M616 61.5H619M622 61.5H625M628 61.5H631M634 61.5H637M640 61.5H643M646 61.5H649M652 61.5H655M658 61.5H661M664 61.5H667M670 61.5H673M676 61.5H679M682 61.5H685M688 61.5H691M694 61.5H697M700 61.5H703M706 61.5H709M712 61.5H715M718 61.5H721M724 61.5H727M730 61.5H733M736 61.5H739M742 61.5H745M748 61.5H751M754 61.5H757M760 61.5H763M766 61.5H769M772 61.5H775M778 61.5H781M784 61.5H787M790 61.5H793M796 61.5H799M802 61.5H805M808 61.5H811M814 61.5H817M820 61.5H823M826 61.5H829M832 61.5H835M838 61.5H841M844 61.5H847M850 61.5H853M856 61.5H859M862 61.5H865M868 61.5H871M874 61.5H877M880 61.5H883M886 61.5H889M892 61.5H895M898 61.5H901M904 61.5H907M910 61.5H913M916 61.5H919M922 61.5H925M928 61.5H931M934 61.5H937M940 61.5H943M946 61.5H949M952 61.5H955M958 61.5H961M964 61.5H967M970 61.5H973M976 61.5H979M982 61.5H985M988 61.5H991M994 61.5H997M1000 61.5H1003M1006 61.5H1009M1012 61.5H1015M1018 61.5H1021M1024 61.5H1027M1030 61.5H1033M1036 61.5H1039M1042 61.5H1045M1048 61.5H1051M1054 61.5H1057M1060 61.5H1063M1066 61.5H1069M4 94.5H7M10 94.5H13M16 94.5H19M22 94.5H25M28 94.5H31M34 94.5H37M40 94.5H43M46 94.5H49M52 94.5H55M58 94.5H61M64 94.5H67M70 94.5H73M76 94.5H79M82 94.5H85M88 94.5H91M94 94.5H97M100 94.5H103M106 94.5H109M112 94.5H115M118 94.5H121M124 94.5H127M130 94.5H133M136 94.5H139M142 94.5H145M148 94.5H151M154 94.5H157M160 94.5H163M166 94.5H169M172 94.5H175M178 94.5H181M184 94.5H187M190 94.5H193M196 94.5H199M202 94.5H205M208 94.5H211M214 94.5H217M220 94.5H223M226 94.5H229M232 94.5H235M238 94.5H241M244 94.5H247M250 94.5H253M256 94.5H259M262 94.5H265M268 94.5H271M274 94.5H277M280 94.5H283M286 94.5H289M292 94.5H295M298 94.5H301M304 94.5H307M310 94.5H313M316 94.5H319M322 94.5H325M328 94.5H331M334 94.5H337M340 94.5H343M346 94.5H349M352 94.5H355M358 94.5H361M364 94.5H367M370 94.5H373M376 94.5H379M382 94.5H385M388 94.5H391M394 94.5H397M400 94.5H403M406 94.5H409M412 94.5H415M418 94.5H421M424 94.5H427M430 94.5H433M436 94.5H439M442 94.5H445M448 94.5H451M454 94.5H457M460 94.5H463M466 94.5H469M472 94.5H475M478 94.5H481M484 94.5H487M490 94.5H493M496 94.5H499M502 94.5H505M508 94.5H511M514 94.5H517M520 94.5H523M526 94.5H529M532 94.5H535M538 94.5H541M544 94.5H547M550 94.5H553M556 94.5H559M562 94.5H565M568 94.5H571M574 94.5H577M580 94.5H583M586 94.5H589M592 94.5H595M598 94.5H601M604 94.5H607M610 94.5H613M616 94.5H619M622 94.5H625M628 94.5H631M634 94.5H637M640 94.5H643M646 94.5H649M652 94.5H655M658 94.5H661M664 94.5H667M670 94.5H673M676 94.5H679M682 94.5H685M688 94.5H691M694 94.5H697M700 94.5H703M706 94.5H709M712 94.5H715M718 94.5H721M724 94.5H727M730 94.5H733M736 94.5H739M742 94.5H745M748 94.5H751M754 94.5H757M760 94.5H763M766 94.5H769M772 94.5H775M778 94.5H781M784 94.5H787M790 94.5H793M796 94.5H799M802 94.5H805M808 94.5H811M814 94.5H817M820 94.5H823M826 94.5H829M832 94.5H835M838 94.5H841M844 94.5H847M850 94.5H853M856 94.5H859M862 94.5H865M868 94.5H871M874 94.5H877M880 94.5H883M886 94.5H889M892 94.5H895M898 94.5H901M904 94.5H907M910 94.5H913M916 94.5H919M922 94.5H925M928 94.5H931M934 94.5H937M940 94.5H943M946 94.5H949M952 94.5H955M958 94.5H961M964 94.5H967M970 94.5H973M976 94.5H979M982 94.5H985M988 94.5H991M994 94.5H997M1000 94.5H1003M1006 94.5H1009M1012 94.5H1015M1018 94.5H1021M1024 94.5H1027M1030 94.5H1033M1036 94.5H1039M1042 94.5H1045M1048 94.5H1051M1054 94.5H1057M1060 94.5H1063M1066 94.5H1069M4 127.5H7M10 127.5H13M16 127.5H19M22 127.5H25M28 127.5H31M34 127.5H37M40 127.5H43M46 127.5H49M52 127.5H55M58 127.5H61M64 127.5H67M70 127.5H73M76 127.5H79M82 127.5H85M88 127.5H91M94 127.5H97M100 127.5H103M106 127.5H109M112 127.5H115M118 127.5H121M124 127.5H127M130 127.5H133M136 127.5H139M142 127.5H145M148 127.5H151M154 127.5H157M160 127.5H163M166 127.5H169M172 127.5H175M178 127.5H181M184 127.5H187M190 127.5H193M196 127.5H199M202 127.5H205M208 127.5H211M214 127.5H217M220 127.5H223M226 127.5H229M232 127.5H235M238 127.5H241M244 127.5H247M250 127.5H253M256 127.5H259M262 127.5H265M268 127.5H271M274 127.5H277M280 127.5H283M286 127.5H289M292 127.5H295M298 127.5H301M304 127.5H307M310 127.5H313M316 127.5H319M322 127.5H325M328 127.5H331M334 127.5H337M340 127.5H343M346 127.5H349M352 127.5H355M358 127.5H361M364 127.5H367M370 127.5H373M376 127.5H379M382 127.5H385M388 127.5H391M394 127.5H397M400 127.5H403M406 127.5H409M412 127.5H415M418 127.5H421M424 127.5H427M430 127.5H433M436 127.5H439M442 127.5H445M448 127.5H451M454 127.5H457M460 127.5H463M466 127.5H469M472 127.5H475M478 127.5H481M484 127.5H487M490 127.5H493M496 127.5H499M502 127.5H505M508 127.5H511M514 127.5H517M520 127.5H523M526 127.5H529M532 127.5H535M538 127.5H541M544 127.5H547M550 127.5H553M556 127.5H559M562 127.5H565M568 127.5H571M574 127.5H577M580 127.5H583M586 127.5H589M592 127.5H595M598 127.5H601M604 127.5H607M610 127.5H613M616 127.5H619M622 127.5H625M628 127.5H631M634 127.5H637M640 127.5H643M646 127.5H649M652 127.5H655M658 127.5H661M664 127.5H667M670 127.5H673M676 127.5H679M682 127.5H685M688 127.5H691M694 127.5H697M700 127.5H703M706 127.5H709M712 127.5H715M718 127.5H721M724 127.5H727M730 127.5H733M736 127.5H739M742 127.5H745M748 127.5H751M754 127.5H757M760 127.5H763M766 127.5H769M772 127.5H775M778 127.5H781M784 127.5H787M790 127.5H793M796 127.5H799M802 127.5H805M808 127.5H811M814 127.5H817M820 127.5H823M826 127.5H829M832 127.5H835M838 127.5H841M844 127.5H847M850 127.5H853M856 127.5H859M862 127.5H865M868 127.5H871M874 127.5H877M880 127.5H883M886 127.5H889M892 127.5H895M898 127.5H901M904 127.5H907M910 127.5H913M916 127.5H919M922 127.5H925M928 127.5H931M934 127.5H937M940 127.5H943M946 127.5H949M952 127.5H955M958 127.5H961M964 127.5H967M970 127.5H973M976 127.5H979M982 127.5H985M988 127.5H991M994 127.5H997M1000 127.5H1003M1006 127.5H1009M1012 127.5H1015M1018 127.5H1021M1024 127.5H1027M1030 127.5H1033M1036 127.5H1039M1042 127.5H1045M1048 127.5H1051M1054 127.5H1057M1060 127.5H1063M1066 127.5H1069M4 160.5H7M10 160.5H13M16 160.5H19M22 160.5H25M28 160.5H31M34 160.5H37M40 160.5H43M46 160.5H49M52 160.5H55M58 160.5H61M64 160.5H67M70 160.5H73M76 160.5H79M82 160.5H85M88 160.5H91M94 160.5H97M100 160.5H103M106 160.5H109M112 160.5H115M118 160.5H121M124 160.5H127M130 160.5H133M136 160.5H139M142 160.5H145M148 160.5H151M154 160.5H157M160 160.5H163M166 160.5H169M172 160.5H175M178 160.5H181M184 160.5H187M190 160.5H193M196 160.5H199M202 160.5H205M208 160.5H211M214 160.5H217M220 160.5H223M226 160.5H229M232 160.5H235M238 160.5H241M244 160.5H247M250 160.5H253M256 160.5H259M262 160.5H265M268 160.5H271M274 160.5H277M280 160.5H283M286 160.5H289M292 160.5H295M298 160.5H301M304 160.5H307M310 160.5H313M316 160.5H319M322 160.5H325M328 160.5H331M334 160.5H337M340 160.5H343M346 160.5H349M352 160.5H355M358 160.5H361M364 160.5H367M370 160.5H373M376 160.5H379M382 160.5H385M388 160.5H391M394 160.5H397M400 160.5H403M406 160.5H409M412 160.5H415M418 160.5H421M424 160.5H427M430 160.5H433M436 160.5H439M442 160.5H445M448 160.5H451M454 160.5H457M460 160.5H463M466 160.5H469M472 160.5H475M478 160.5H481M484 160.5H487M490 160.5H493M496 160.5H499M502 160.5H505M508 160.5H511M514 160.5H517M520 160.5H523M526 160.5H529M532 160.5H535M538 160.5H541M544 160.5H547M550 160.5H553M556 160.5H559M562 160.5H565M568 160.5H571M574 160.5H577M580 160.5H583M586 160.5H589M592 160.5H595M598 160.5H601M604 160.5H607M610 160.5H613M616 160.5H619M622 160.5H625M628 160.5H631M634 160.5H637M640 160.5H643M646 160.5H649M652 160.5H655M658 160.5H661M664 160.5H667M670 160.5H673M676 160.5H679M682 160.5H685M688 160.5H691M694 160.5H697M700 160.5H703M706 160.5H709M712 160.5H715M718 160.5H721M724 160.5H727M730 160.5H733M736 160.5H739M742 160.5H745M748 160.5H751M754 160.5H757M760 160.5H763M766 160.5H769M772 160.5H775M778 160.5H781M784 160.5H787M790 160.5H793M796 160.5H799M802 160.5H805M808 160.5H811M814 160.5H817M820 160.5H823M826 160.5H829M832 160.5H835M838 160.5H841M844 160.5H847M850 160.5H853M856 160.5H859M862 160.5H865M868 160.5H871M874 160.5H877M880 160.5H883M886 160.5H889M892 160.5H895M898 160.5H901M904 160.5H907M910 160.5H913M916 160.5H919M922 160.5H925M928 160.5H931M934 160.5H937M940 160.5H943M946 160.5H949M952 160.5H955M958 160.5H961M964 160.5H967M970 160.5H973M976 160.5H979M982 160.5H985M988 160.5H991M994 160.5H997M1000 160.5H1003M1006 160.5H1009M1012 160.5H1015M1018 160.5H1021M1024 160.5H1027M1030 160.5H1033M1036 160.5H1039M1042 160.5H1045M1048 160.5H1051M1054 160.5H1057M1060 160.5H1063M1066 160.5H1069M4 193.5H7M10 193.5H13M16 193.5H19M22 193.5H25M28 193.5H31M34 193.5H37M40 193.5H43M46 193.5H49M52 193.5H55M58 193.5H61M64 193.5H67M70 193.5H73M76 193.5H79M82 193.5H85M88 193.5H91M94 193.5H97M100 193.5H103M106 193.5H109M112 193.5H115M118 193.5H121M124 193.5H127M130 193.5H133M136 193.5H139M142 193.5H145M148 193.5H151M154 193.5H157M160 193.5H163M166 193.5H169M172 193.5H175M178 193.5H181M184 193.5H187M190 193.5H193M196 193.5H199M202 193.5H205M208 193.5H211M214 193.5H217M220 193.5H223M226 193.5H229M232 193.5H235M238 193.5H241M244 193.5H247M250 193.5H253M256 193.5H259M262 193.5H265M268 193.5H271M274 193.5H277M280 193.5H283M286 193.5H289M292 193.5H295M298 193.5H301M304 193.5H307M310 193.5H313M316 193.5H319M322 193.5H325M328 193.5H331M334 193.5H337M340 193.5H343M346 193.5H349M352 193.5H355M358 193.5H361M364 193.5H367M370 193.5H373M376 193.5H379M382 193.5H385M388 193.5H391M394 193.5H397M400 193.5H403M406 193.5H409M412 193.5H415M418 193.5H421M424 193.5H427M430 193.5H433M436 193.5H439M442 193.5H445M448 193.5H451M454 193.5H457M460 193.5H463M466 193.5H469M472 193.5H475M478 193.5H481M484 193.5H487M490 193.5H493M496 193.5H499M502 193.5H505M508 193.5H511M514 193.5H517M520 193.5H523M526 193.5H529M532 193.5H535M538 193.5H541M544 193.5H547M550 193.5H553M556 193.5H559M562 193.5H565M568 193.5H571M574 193.5H577M580 193.5H583M586 193.5H589M592 193.5H595M598 193.5H601M604 193.5H607M610 193.5H613M616 193.5H619M622 193.5H625M628 193.5H631M634 193.5H637M640 193.5H643M646 193.5H649M652 193.5H655M658 193.5H661M664 193.5H667M670 193.5H673M676 193.5H679M682 193.5H685M688 193.5H691M694 193.5H697M700 193.5H703M706 193.5H709M712 193.5H715M718 193.5H721M724 193.5H727M730 193.5H733M736 193.5H739M742 193.5H745M748 193.5H751M754 193.5H757M760 193.5H763M766 193.5H769M772 193.5H775M778 193.5H781M784 193.5H787M790 193.5H793M796 193.5H799M802 193.5H805M808 193.5H811M814 193.5H817M820 193.5H823M826 193.5H829M832 193.5H835M838 193.5H841M844 193.5H847M850 193.5H853M856 193.5H859M862 193.5H865M868 193.5H871M874 193.5H877M880 193.5H883M886 193.5H889M892 193.5H895M898 193.5H901M904 193.5H907M910 193.5H913M916 193.5H919M922 193.5H925M928 193.5H931M934 193.5H937M940 193.5H943M946 193.5H949M952 193.5H955M958 193.5H961M964 193.5H967M970 193.5H973M976 193.5H979M982 193.5H985M988 193.5H991M994 193.5H997M1000 193.5H1003M1006 193.5H1009M1012 193.5H1015M1018 193.5H1021M1024 193.5H1027M1030 193.5H1033M1036 193.5H1039M1042 193.5H1045M1048 193.5H1051M1054 193.5H1057M1060 193.5H1063M1066 193.5H1069M4 226.5H7M10 226.5H13M16 226.5H19M22 226.5H25M28 226.5H31M34 226.5H37M40 226.5H43M46 226.5H49M52 226.5H55M58 226.5H61M64 226.5H67M70 226.5H73M76 226.5H79M82 226.5H85M88 226.5H91M94 226.5H97M100 226.5H103M106 226.5H109M112 226.5H115M118 226.5H121M124 226.5H127M130 226.5H133M136 226.5H139M142 226.5H145M148 226.5H151M154 226.5H157M160 226.5H163M166 226.5H169M172 226.5H175M178 226.5H181M184 226.5H187M190 226.5H193M196 226.5H199M202 226.5H205M208 226.5H211M214 226.5H217M220 226.5H223M226 226.5H229M232 226.5H235M238 226.5H241M244 226.5H247M250 226.5H253M256 226.5H259M262 226.5H265M268 226.5H271M274 226.5H277M280 226.5H283M286 226.5H289M292 226.5H295M298 226.5H301M304 226.5H307M310 226.5H313M316 226.5H319M322 226.5H325M328 226.5H331M334 226.5H337M340 226.5H343M346 226.5H349M352 226.5H355M358 226.5H361M364 226.5H367M370 226.5H373M376 226.5H379M382 226.5H385M388 226.5H391M394 226.5H397M400 226.5H403M406 226.5H409M412 226.5H415M418 226.5H421M424 226.5H427M430 226.5H433M436 226.5H439M442 226.5H445M448 226.5H451M454 226.5H457M460 226.5H463M466 226.5H469M472 226.5H475M478 226.5H481M484 226.5H487M490 226.5H493M496 226.5H499M502 226.5H505M508 226.5H511M514 226.5H517M520 226.5H523M526 226.5H529M532 226.5H535M538 226.5H541M544 226.5H547M550 226.5H553M556 226.5H559M562 226.5H565M568 226.5H571M574 226.5H577M580 226.5H583M586 226.5H589M592 226.5H595M598 226.5H601M604 226.5H607M610 226.5H613M616 226.5H619M622 226.5H625M628 226.5H631M634 226.5H637M640 226.5H643M646 226.5H649M652 226.5H655M658 226.5H661M664 226.5H667M670 226.5H673M676 226.5H679M682 226.5H685M688 226.5H691M694 226.5H697M700 226.5H703M706 226.5H709M712 226.5H715M718 226.5H721M724 226.5H727M730 226.5H733M736 226.5H739M742 226.5H745M748 226.5H751M754 226.5H757M760 226.5H763M766 226.5H769M772 226.5H775M778 226.5H781M784 226.5H787M790 226.5H793M796 226.5H799M802 226.5H805M808 226.5H811M814 226.5H817M820 226.5H823M826 226.5H829M832 226.5H835M838 226.5H841M844 226.5H847M850 226.5H853M856 226.5H859M862 226.5H865M868 226.5H871M874 226.5H877M880 226.5H883M886 226.5H889M892 226.5H895M898 226.5H901M904 226.5H907M910 226.5H913M916 226.5H919M922 226.5H925M928 226.5H931M934 226.5H937M940 226.5H943M946 226.5H949M952 226.5H955M958 226.5H961M964 226.5H967M970 226.5H973M976 226.5H979M982 226.5H985M988 226.5H991M994 226.5H997M1000 226.5H1003M1006 226.5H1009M1012 226.5H1015M1018 226.5H1021M1024 226.5H1027M1030 226.5H1033M1036 226.5H1039M1042 226.5H1045M1048 226.5H1051M1054 226.5H1057M1060 226.5H1063M1066 226.5H1069M4 259.5H7M10 259.5H13M16 259.5H19M22 259.5H25M28 259.5H31M34 259.5H37M40 259.5H43M46 259.5H49M52 259.5H55M58 259.5H61M64 259.5H67M70 259.5H73M76 259.5H79M82 259.5H85M88 259.5H91M94 259.5H97M100 259.5H103M106 259.5H109M112 259.5H115M118 259.5H121M124 259.5H127M130 259.5H133M136 259.5H139M142 259.5H145M148 259.5H151M154 259.5H157M160 259.5H163M166 259.5H169M172 259.5H175M178 259.5H181M184 259.5H187M190 259.5H193M196 259.5H199M202 259.5H205M208 259.5H211M214 259.5H217M220 259.5H223M226 259.5H229M232 259.5H235M238 259.5H241M244 259.5H247M250 259.5H253M256 259.5H259M262 259.5H265M268 259.5H271M274 259.5H277M280 259.5H283M286 259.5H289M292 259.5H295M298 259.5H301M304 259.5H307M310 259.5H313M316 259.5H319M322 259.5H325M328 259.5H331M334 259.5H337M340 259.5H343M346 259.5H349M352 259.5H355M358 259.5H361M364 259.5H367M370 259.5H373M376 259.5H379M382 259.5H385M388 259.5H391M394 259.5H397M400 259.5H403M406 259.5H409M412 259.5H415M418 259.5H421M424 259.5H427M430 259.5H433M436 259.5H439M442 259.5H445M448 259.5H451M454 259.5H457M460 259.5H463M466 259.5H469M472 259.5H475M478 259.5H481M484 259.5H487M490 259.5H493M496 259.5H499M502 259.5H505M508 259.5H511M514 259.5H517M520 259.5H523M526 259.5H529M532 259.5H535M538 259.5H541M544 259.5H547M550 259.5H553M556 259.5H559M562 259.5H565M568 259.5H571M574 259.5H577M580 259.5H583M586 259.5H589M592 259.5H595M598 259.5H601M604 259.5H607M610 259.5H613M616 259.5H619M622 259.5H625M628 259.5H631M634 259.5H637M640 259.5H643M646 259.5H649M652 259.5H655M658 259.5H661M664 259.5H667M670 259.5H673M676 259.5H679M682 259.5H685M688 259.5H691M694 259.5H697M700 259.5H703M706 259.5H709M712 259.5H715M718 259.5H721M724 259.5H727M730 259.5H733M736 259.5H739M742 259.5H745M748 259.5H751M754 259.5H757M760 259.5H763M766 259.5H769M772 259.5H775M778 259.5H781M784 259.5H787M790 259.5H793M796 259.5H799M802 259.5H805M808 259.5H811M814 259.5H817M820 259.5H823M826 259.5H829M832 259.5H835M838 259.5H841M844 259.5H847M850 259.5H853M856 259.5H859M862 259.5H865M868 259.5H871M874 259.5H877M880 259.5H883M886 259.5H889M892 259.5H895M898 259.5H901M904 259.5H907M910 259.5H913M916 259.5H919M922 259.5H925M928 259.5H931M934 259.5H937M940 259.5H943M946 259.5H949M952 259.5H955M958 259.5H961M964 259.5H967M970 259.5H973M976 259.5H979M982 259.5H985M988 259.5H991M994 259.5H997M1000 259.5H1003M1006 259.5H1009M1012 259.5H1015M1018 259.5H1021M1024 259.5H1027M1030 259.5H1033M1036 259.5H1039M1042 259.5H1045M1048 259.5H1051M1054 259.5H1057M1060 259.5H1063M1066 259.5H1069M4 292.5H7M10 292.5H13M16 292.5H19M22 292.5H25M28 292.5H31M34 292.5H37M40 292.5H43M46 292.5H49M52 292.5H55M58 292.5H61M64 292.5H67M70 292.5H73M76 292.5H79M82 292.5H85M88 292.5H91M94 292.5H97M100 292.5H103M106 292.5H109M112 292.5H115M118 292.5H121M124 292.5H127M130 292.5H133M136 292.5H139M142 292.5H145M148 292.5H151M154 292.5H157M160 292.5H163M166 292.5H169M172 292.5H175M178 292.5H181M184 292.5H187M190 292.5H193M196 292.5H199M202 292.5H205M208 292.5H211M214 292.5H217M220 292.5H223M226 292.5H229M232 292.5H235M238 292.5H241M244 292.5H247M250 292.5H253M256 292.5H259M262 292.5H265M268 292.5H271M274 292.5H277M280 292.5H283M286 292.5H289M292 292.5H295M298 292.5H301M304 292.5H307M310 292.5H313M316 292.5H319M322 292.5H325M328 292.5H331M334 292.5H337M340 292.5H343M346 292.5H349M352 292.5H355M358 292.5H361M364 292.5H367M370 292.5H373M376 292.5H379M382 292.5H385M388 292.5H391M394 292.5H397M400 292.5H403M406 292.5H409M412 292.5H415M418 292.5H421M424 292.5H427M430 292.5H433M436 292.5H439M442 292.5H445M448 292.5H451M454 292.5H457M460 292.5H463M466 292.5H469M472 292.5H475M478 292.5H481M484 292.5H487M490 292.5H493M496 292.5H499M502 292.5H505M508 292.5H511M514 292.5H517M520 292.5H523M526 292.5H529M532 292.5H535M538 292.5H541M544 292.5H547M550 292.5H553M556 292.5H559M562 292.5H565M568 292.5H571M574 292.5H577M580 292.5H583M586 292.5H589M592 292.5H595M598 292.5H601M604 292.5H607M610 292.5H613M616 292.5H619M622 292.5H625M628 292.5H631M634 292.5H637M640 292.5H643M646 292.5H649M652 292.5H655M658 292.5H661M664 292.5H667M670 292.5H673M676 292.5H679M682 292.5H685M688 292.5H691M694 292.5H697M700 292.5H703M706 292.5H709M712 292.5H715M718 292.5H721M724 292.5H727M730 292.5H733M736 292.5H739M742 292.5H745M748 292.5H751M754 292.5H757M760 292.5H763M766 292.5H769M772 292.5H775M778 292.5H781M784 292.5H787M790 292.5H793M796 292.5H799M802 292.5H805M808 292.5H811M814 292.5H817M820 292.5H823M826 292.5H829M832 292.5H835M838 292.5H841M844 292.5H847M850 292.5H853M856 292.5H859M862 292.5H865M868 292.5H871M874 292.5H877M880 292.5H883M886 292.5H889M892 292.5H895M898 292.5H901M904 292.5H907M910 292.5H913M916 292.5H919M922 292.5H925M928 292.5H931M934 292.5H937M940 292.5H943M946 292.5H949M952 292.5H955M958 292.5H961M964 292.5H967M970 292.5H973M976 292.5H979M982 292.5H985M988 292.5H991M994 292.5H997M1000 292.5H1003M1006 292.5H1009M1012 292.5H1015M1018 292.5H1021M1024 292.5H1027M1030 292.5H1033M1036 292.5H1039M1042 292.5H1045M1048 292.5H1051M1054 292.5H1057M1060 292.5H1063M1066 292.5H1069M4 335.5H7M10 335.5H13M16 335.5H19M22 335.5H25M28 335.5H31M34 335.5H37M40 335.5H43M46 335.5H49M52 335.5H55M58 335.5H61M64 335.5H67M70 335.5H73M76 335.5H79M82 335.5H85M88 335.5H91M94 335.5H97M100 335.5H103M106 335.5H109M112 335.5H115M118 335.5H121M124 335.5H127M130 335.5H133M136 335.5H139M142 335.5H145M148 335.5H151M154 335.5H157M160 335.5H163M166 335.5H169M172 335.5H175M178 335.5H181M184 335.5H187M190 335.5H193M196 335.5H199M202 335.5H205M208 335.5H211M214 335.5H217M220 335.5H223M226 335.5H229M232 335.5H235M238 335.5H241M244 335.5H247M250 335.5H253M256 335.5H259M262 335.5H265M268 335.5H271M274 335.5H277M280 335.5H283M286 335.5H289M292 335.5H295M298 335.5H301M304 335.5H307M310 335.5H313M316 335.5H319M322 335.5H325M328 335.5H331M334 335.5H337M340 335.5H343M346 335.5H349M352 335.5H355M358 335.5H361M364 335.5H367M370 335.5H373M376 335.5H379M382 335.5H385M388 335.5H391M394 335.5H397M400 335.5H403M406 335.5H409M412 335.5H415M418 335.5H421M424 335.5H427M430 335.5H433M436 335.5H439M442 335.5H445M448 335.5H451M454 335.5H457M460 335.5H463M466 335.5H469M472 335.5H475M478 335.5H481M484 335.5H487M490 335.5H493M496 335.5H499M502 335.5H505M508 335.5H511M514 335.5H517M520 335.5H523M526 335.5H529M532 335.5H535M538 335.5H541M544 335.5H547M550 335.5H553M556 335.5H559M562 335.5H565M568 335.5H571M574 335.5H577M580 335.5H583M586 335.5H589M592 335.5H595M598 335.5H601M604 335.5H607M610 335.5H613M616 335.5H619M622 335.5H625M628 335.5H631M634 335.5H637M640 335.5H643M646 335.5H649M652 335.5H655M658 335.5H661M664 335.5H667M670 335.5H673M676 335.5H679M682 335.5H685M688 335.5H691M694 335.5H697M700 335.5H703M706 335.5H709M712 335.5H715M718 335.5H721M724 335.5H727M730 335.5H733M736 335.5H739M742 335.5H745M748 335.5H751M754 335.5H757M760 335.5H763M766 335.5H769M772 335.5H775M778 335.5H781M784 335.5H787M790 335.5H793M796 335.5H799M802 335.5H805M808 335.5H811M814 335.5H817M820 335.5H823M826 335.5H829M832 335.5H835M838 335.5H841M844 335.5H847M850 335.5H853M856 335.5H859M862 335.5H865M868 335.5H871M874 335.5H877M880 335.5H883M886 335.5H889M892 335.5H895M898 335.5H901M904 335.5H907M910 335.5H913M916 335.5H919M922 335.5H925M928 335.5H931M934 335.5H937M940 335.5H943M946 335.5H949M952 335.5H955M958 335.5H961M964 335.5H967M970 335.5H973M976 335.5H979M982 335.5H985M988 335.5H991M994 335.5H997M1000 335.5H1003M1006 335.5H1009M1012 335.5H1015M1018 335.5H1021M1024 335.5H1027M1030 335.5H1033M1036 335.5H1039M1042 335.5H1045M1048 335.5H1051M1054 335.5H1057M1060 335.5H1063M1066 335.5H1069M4 413.5H7M10 413.5H13M16 413.5H19M22 413.5H25M28 413.5H31M34 413.5H37M40 413.5H43M46 413.5H49M52 413.5H55M58 413.5H61M64 413.5H67M70 413.5H73M76 413.5H79M82 413.5H85M88 413.5H91M94 413.5H97M100 413.5H103M106 413.5H109M112 413.5H115M118 413.5H121M124 413.5H127M130 413.5H133M136 413.5H139M142 413.5H145M148 413.5H151M154 413.5H157M160 413.5H163M166 413.5H169M172 413.5H175M178 413.5H181M184 413.5H187M190 413.5H193M196 413.5H199M202 413.5H205M208 413.5H211M214 413.5H217M220 413.5H223M226 413.5H229M232 413.5H235M238 413.5H241M244 413.5H247M250 413.5H253M256 413.5H259M262 413.5H265M268 413.5H271M274 413.5H277M280 413.5H283M286 413.5H289M292 413.5H295M298 413.5H301M304 413.5H307M310 413.5H313M316 413.5H319M322 413.5H325M328 413.5H331M334 413.5H337M340 413.5H343M346 413.5H349M352 413.5H355M358 413.5H361M364 413.5H367M370 413.5H373M376 413.5H379M382 413.5H385M388 413.5H391M394 413.5H397M400 413.5H403M406 413.5H409M412 413.5H415M418 413.5H421M424 413.5H427M430 413.5H433M436 413.5H439M442 413.5H445M448 413.5H451M454 413.5H457M460 413.5H463M466 413.5H469M472 413.5H475M478 413.5H481M484 413.5H487M490 413.5H493M496 413.5H499M502 413.5H505M508 413.5H511M514 413.5H517M520 413.5H523M526 413.5H529M532 413.5H535M538 413.5H541M544 413.5H547M550 413.5H553M556 413.5H559M562 413.5H565M568 413.5H571M574 413.5H577M580 413.5H583M586 413.5H589M592 413.5H595M598 413.5H601M604 413.5H607M610 413.5H613M616 413.5H619M622 413.5H625M628 413.5H631M634 413.5H637M640 413.5H643M646 413.5H649M652 413.5H655M658 413.5H661M664 413.5H667M670 413.5H673M676 413.5H679M682 413.5H685M688 413.5H691M694 413.5H697M700 413.5H703M706 413.5H709M712 413.5H715M718 413.5H721M724 413.5H727M730 413.5H733M736 413.5H739M742 413.5H745M748 413.5H751M754 413.5H757M760 413.5H763M766 413.5H769M772 413.5H775M778 413.5H781M784 413.5H787M790 413.5H793M796 413.5H799M802 413.5H805M808 413.5H811M814 413.5H817M820 413.5H823M826 413.5H829M832 413.5H835M838 413.5H841M844 413.5H847M850 413.5H853M856 413.5H859M862 413.5H865M868 413.5H871M874 413.5H877M880 413.5H883M886 413.5H889M892 413.5H895M898 413.5H901M904 413.5H907M910 413.5H913M916 413.5H919M922 413.5H925M928 413.5H931M934 413.5H937M940 413.5H943M946 413.5H949M952 413.5H955M958 413.5H961M964 413.5H967M970 413.5H973M976 413.5H979M982 413.5H985M988 413.5H991M994 413.5H997M1000 413.5H1003M1006 413.5H1009M1012 413.5H1015M1018 413.5H1021M1024 413.5H1027M1030 413.5H1033M1036 413.5H1039M1042 413.5H1045M1048 413.5H1051M1054 413.5H1057M1060 413.5H1063M1066 413.5H1069" stroke="#c0c0c0" stroke-width="1" fill="none" shape-rendering="crispEdges"/>
<path d="M243.5 3V5M243.5 8V11M243.5 14V17M243.5 20V23M243.5 26V29M243.5 32V35M243.5 38V41M243.5 44V47M243.5 50V53M243.5 56V59M243.5 62V65M243.5 68V71M243.5 74V77M243.5 80V83M243.5 86V89M243.5 92V95M243.5 98V101M243.5 104V107M243.5 110V113M243.5 116V119M243.5 122V125M243.5 128V131M243.5 134V137M243.5 140V143M243.5 146V149M243.5 152V155M243.5 158V161M243.5 164V167M243.5 170V173M243.5 176V179M243.5 182V185M243.5 188V191M243.5 194V197M243.5 200V203M243.5 206V209M243.5 212V215M243.5 218V221M243.5 224V227M243.5 230V233M243.5 236V239M243.5 242V245M243.5 248V251M243.5 254V257M243.5 260V263M243.5 266V269M243.5 272V275M243.5 278V281M243.5 284V287M243.5 290V293M243.5 298V299M243.5 302V305M243.5 308V311M243.5 314V317M243.5 320V323M243.5 326V329M243.5 332V335M243.5 338V341M243.5 344V347M243.5 350V353M243.5 356V359M243.5 362V365M243.5 368V371M243.5 376V377M243.5 380V383M243.5 386V389M243.5 392V395M243.5 398V401M243.5 404V407M243.5 410V413M243.5 416V419M243.5 422V425M243.5 428V431M243.5 434V437M243.5 440V443M483.5 3V5M483.5 8V11M483.5 14V17M483.5 20V23M483.5 26V29M483.5 32V35M483.5 38V41M483.5 44V47M483.5 50V53M483.5 56V59M483.5 62V65M483.5 68V71M483.5 74V77M483.5 80V83M483.5 86V89M483.5 92V95M483.5 98V101M483.5 104V107M483.5 110V113M483.5 116V119M483.5 122V125M483.5 128V131M483.5 134V137M483.5 140V143M483.5 146V149M483.5 152V155M483.5 158V161M483.5 164V167M483.5 170V173M483.5 176V179M483.5 182V185M483.5 188V191M483.5 194V197M483.5 200V203M483.5 206V209M483.5 212V215M483.5 218V221M483.5 224V227M483.5 230V233M483.5 236V239M483.5 242V245M483.5 248V251M483.5 254V257M483.5 260V263M483.5 266V269M483.5 272V275M483.5 278V281M483.5 284V287M483.5 290V293M483.5 298V299M483.5 302V305M483.5 308V311M483.5 314V317M483.5 320V323M483.5 326V329M483.5 332V335M483.5 338V341M483.5 344V347M483.5 350V353M483.5 356V359M483.5 362V365M483.5 368V371M483.5 376V377M483.5 380V383M483.5 386V389M483.5 392V395M483.5 398V401M483.5 404V407M483.5 410V413M483.5 416V419M483.5 422V425M483.5 428V431M483.5 434V437M483.5 440V443M723.5 3V5M723.5 8V11M723.5 14V17M723.5 20V23M723.5 26V29M723.5 32V35M723.5 38V41M723.5 44V47M723.5 50V53M723.5 56V59M723.5 62V65M723.5 68V71M723.5 74V77M723.5 80V83M723.5 86V89M723.5 92V95M723.5 98V101M723.5 104V107M723.5 110V113M723.5 116V119M723.5 122V125M723.5 128V131M723.5 134V137M723.5 140V143M723.5 146V149M723.5 152V155M723.5 158V161M723.5 164V167M723.5 170V173M723.5 176V179M723.5 182V185M723.5 188V191M723.5 194V197M723.5 200V203M723.5 206V209M723.5 212V215M723.5 218V221M723.5 224V227M723.5 230V233M723.5 236V239M723.5 242V245M723.5 248V251M723.5 254V257M723.5 260V263M723.5 266V269M723.5 272V275M723.5 278V281M723.5 284V287M723.5 290V293M723.5 298V299M723.5 302V305M723.5 308V311M723.5 314V317M723.5 320V323M723.5 326V329M723.5 332V335M723.5 338V341M723.5 344V347M723.5 350V353M723.5 356V359M723.5 362V365M723.5 368V371M723.5 376V377M723.5 380V383M723.5 386V389M723.5 392V395M723.5 398V401M723.5 404V407M723.5 410V413M723.5 416V419M723.5 422V425M723.5 428V431M723.5 434V437M723.5 440V443M1011.5 3V5M1011.5 8V11M1011.5 14V17M1011.5 20V23M1011.5 26V29M1011.5 32V35M1011.5 38V41M1011.5 44V47M1011.5 50V53M1011.5 56V59M1011.5 62V65M1011.5 68V71M1011.5 74V77M1011.5 80V83M1011.5 86V89M1011.5 92V95M1011.5 98V101M1011.5 104V107M1011.5 110V113M1011.5 116V119M1011.5 122V125M1011.5 128V131M1011.5 134V137M1011.5 140V143M1011.5 146V149M1011.5 152V155M1011.5 158V161M1011.5 164V167M1011.5 170V173M1011.5 176V179M1011.5 182V185M1011.5 188V191M1011.5 194V197M1011.5 200V203M1011.5 206V209M1011.5 212V215M1011.5 218V221M1011.5 224V227M1011.5 230V233M1011.5 236V239M1011.5 242V245M1011.5 248V251M1011.5 254V257M1011.5 260V263M1011.5 266V269M1011.5 272V275M1011.5 278V281M1011.5 284V287M1011.5 290V293M1011.5 298V299M1011.5 302V305M1011.5 308V311M1011.5 314V317M1011.5 320V323M1011.5 326V329M1011.5 332V335M1011.5 338V341M1011.5 344V347M1011.5 350V353M1011.5 356V359M1011.5 362V365M1011.5 368V371M1011.5 376V377M1011.5 380V383M1011.5 386V389M1011.5 392V395M1011.5 398V401M1011.5 404V407M1011.5 410V413M1011.5 416V419M1011.5 422V425M1011.5 428V431M1011.5 434V437M1011.5 440V443" stroke="#000" stroke-width="1" fill="none" shape-rendering="crispEdges"/>
<line x1="3" y1="128.5" x2="1072" y2="128.5" stroke="#c0c0c0" stroke-width="1" shape-rendering="crispEdges"/>
<line x1="3" y1="145.5" x2="1072" y2="145.5" stroke="#ff0000" stroke-width="1" shape-rendering="crispEdges"/>
<line x1="3" y1="162.5" x2="1072" y2="162.5" stroke="#ff0000" stroke-width="1" shape-rendering="crispEdges"/>
<line x1="3" y1="194.5" x2="1072" y2="194.5" stroke="#ff0000" stroke-width="1" shape-rendering="crispEdges"/>
<line x1="3" y1="228.5" x2="1072" y2="228.5" stroke="#ff0000" stroke-width="1" shape-rendering="crispEdges"/>
<polyline fill="none" stroke="#ffff00" stroke-width="1" points="3,160.5 13,158.4 28,155.5 41,154.5 52,156 65,159 73,162.7 86,168 99,169 112,168 121,171 130,179 138,181 151,175.6 164,170 177.3,165.8 187,164.1 192.4,169 198.9,177.7 207.5,188.5 216,197 229,205 240,211.5 251,224 261.6,228.6 274.6,233 290.8,237.6 298,233 307,220 317.8,209 328.6,201.6 341.5,194 352,191.8 365,189 378,190 389,185.4 400,175.6 413,168 425.8,162.7 441,161.6 456,162.3 480,161.3 493,154.5 508,147 523,141.6 532,141.6 542.6,147 553.5,155.6 562,160 570.7,158.9 581.5,147 592,141.6 609.6,135 622.6,128 640,126.4 659,119.3 676.6,126.4 687,124.3 704.7,117.8 713,113.4 728,110.2 741,108.7 762.6,111.3 780,91.8 801.5,77.8 820,64.2 829.6,67 840.4,77.8 857.7,86.4 867.4,94"/>
<polyline fill="none" stroke="#ff0000" stroke-width="1" points="3,166 12,168 21.6,165.5 34.6,161.6 50,159.4 62.6,158.8 73,160.5 86,162.7 99,165 121,167 134,168 142.6,173.5 153,176.7 166,173.5 179,170 190,169 202,166.4 211.7,172.4 222.5,181 233,188.6 240,192.5 259.4,201.6 268,211 283,217.8 296,223 307,227.5 317.8,223 328.6,213.5 343.7,205.9 361,199.4 378,195.7 395.5,193.6 408.5,188 423.6,178.9 441,174 456,170.2 480,167.2 497,161 514.6,153.4 527.5,148 540.5,149 555.6,153.4 570.7,157.8 585.8,157.8 598.8,149 614,143.7 631,138 648.5,134 663.6,128.6 674.4,125.4 693.9,128.6 706.8,126.4 721.6,121 738.9,116 754,113.4 780,113.4 803.7,95.7 821,85.4 836,76.7 842.6,76.3 860,81 882.5,90.8"/>
<polyline fill="none" stroke="#0000ff" stroke-width="1" points="3,173.5 15,173 34.6,172 54,168 71,165.5 86,163.8 101.5,164.8 121,167 138,167 155.5,168 170.7,171.3 183.6,172.4 198.7,170.2 216,168.7 226.8,168 233,170.2 240,172.8 260,181.8 275.6,188.6 291,198.4 308.6,207 320,210.5 328,213 337.8,212 353.4,208 369,203.2 380,200.3 391,198 412.8,196.6 425.8,194 441,186.4 456,182 469,179 480,178.4 501.6,172.9 523,167.5 544.8,163 562,158.9 575,158.4 588,160 598.8,161.7 609.6,161 622.6,154.5 644,148 663.6,143.7 687,138.3 702.5,135.5 715,136.6 738.9,130.7 756,126.4 775.6,122 803.7,120 821,110.2 840.4,101.6 861,91.4 870.7,90.8 894.4,92.3 906.3,96.6"/>
<path d="M3.5 142V158M4 152.5H7M11.5 145V158M8 152.5H11M12 152.5H15M19.5 137V160M16 152.5H19M20 152.5H23M27.5 149V193M24 151.5H27M28 177.5H31M35.5 151V183M32 177.5H35M36 177.5H39M43.5 170V182M40 177.5H43M44 178.5H47M51.5 173V188M48 178.5H51M52 186.5H55M59.5 167V187M56 185.5H59M60 167.5H63M67.5 155V190M64 170.5H67M68 170.5H71M75.5 148V182M72 179.5H75M76 159.5H79M83.5 144V196M80 147.5H83M84 147.5H87M91.5 146V197M88 147.5H91M92 193.5H95M99.5 188V196M96 192.5H99M100 188.5H103M107.5 188V219M104 188.5H107M108 206.5H111M115.5 162V213M112 206.5H115M116 179.5H119M123.5 132V190M120 179.5H123M124 142.5H127M131.5 138V176M128 142.5H131M132 164.5H135M139.5 151V171M136 164.5H139M140 164.5H143M147.5 155V171M144 164.5H147M148 157.5H151M155.5 149V161M152 157.5H155M156 154.5H159M163.5 142V172M160 154.5H163M164 162.5H167M171.5 148V260M168 162.5H171M172 217.5H175M179.5 208V242M176 217.5H179M180 214.5H183M187.5 214V233M184 214.5H187M188 229.5H191M195.5 223V230M192 229.5H195M196 224.5H199M203.5 223V239M200 224.5H203M204 226.5H207M211.5 218V245M208 226.5H211M212 219.5H215M219.5 205V255M216 219.5H219M220 254.5H223M227.5 240V290M224 254.5H227M228 251.5H231M235.5 235V252M232 251.5H235M236 242.5H239M243.5 236V252M240 247.5H243M244 247.5H247M251.5 237V250M248 247.5H251M252 244.5H255M259.5 231V266M256 243.5H259M260 256.5H263M267.5 225V266M264 256.5H267M268 229.5H271M275.5 163V242M272 229.5H275M276 171.5H279M283.5 164V180M280 171.5H283M284 176.5H287M291.5 166V182M288 174.5H291M292 168.5H295M299.5 168V197M296 168.5H299M300 190.5H303M307.5 157V199M304 190.5H307M308 165.5H311M315.5 161V191M312 166.5H315M316 182.5H319M323.5 172V199M320 182.5H323M324 188.5H327M331.5 180V198M328 188.5H331M332 188.5H335M339.5 175V189M336 188.5H339M340 178.5H343M347.5 175V213M344 178.5H347M348 195.5H351M355.5 164V213M352 195.5H355M356 186.5H359M363.5 147V197M360 186.5H363M364 154.5H367M371.5 126V169M368 154.5H371M372 134.5H375M379.5 133V167M376 134.5H379M380 160.5H383M387.5 152V162M384 160.5H387M388 155.5H391M395.5 143V161M392 155.5H395M396 157.5H399M403.5 143V165M400 157.5H403M404 158.5H407M411.5 142V168M408 158.5H411M412 159.5H415M419.5 159V187M416 159.5H419M420 164.5H423M427.5 155V171M424 164.5H427M428 163.5H431M435.5 155V164M432 163.5H435M436 156.5H439M443.5 155V166M440 156.5H443M444 157.5H447M451.5 150V176M448 157.5H451M452 162.5H455M459.5 135V165M456 162.5H459M460 145.5H463M467.5 126V168M464 145.5H467M468 134.5H471M475.5 129V141M472 134.5H475M476 138.5H479M483.5 130V139M480 130.5H483M484 134.5H487M491.5 128V141M488 134.5H491M492 134.5H495M499.5 107V143M496 135.5H499M500 135.5H503M507.5 129V155M504 135.5H507M508 145.5H511M515.5 138V183M512 144.5H515M516 174.5H519M523.5 167V181M520 174.5H523M524 180.5H527M531.5 177V186M528 180.5H531M532 180.5H535M539.5 170V187M536 180.5H539M540 180.5H543M547.5 118V195M544 180.5H547M548 119.5H551M555.5 87V125M552 119.5H555M556 109.5H559M563.5 102V138M560 109.5H563M564 131.5H567M571.5 121V132M568 131.5H571M572 129.5H575M579.5 118V130M576 129.5H579M580 118.5H583M587.5 114V124M584 118.5H587M588 120.5H591M595.5 101V126M592 120.5H595M596 113.5H599M603.5 107V137M600 113.5H603M604 127.5H607M611.5 122V144M608 127.5H611M612 134.5H615M619.5 100V142M616 134.5H619M620 114.5H623M627.5 98V115M624 114.5H627M628 100.5H631M635.5 100V118M632 100.5H635M636 111.5H639M643.5 108V160M640 111.5H643M644 154.5H647M651.5 121V164M648 154.5H651M652 124.5H655M659.5 102V144M656 124.5H659M660 112.5H663M667.5 99V122M664 112.5H667M668 106.5H671M675.5 103V111M672 106.5H675M676 106.5H679M683.5 101V114M680 106.5H683M684 102.5H687M691.5 83V106M688 102.5H691M692 87.5H695M699.5 83V129M696 87.5H699M700 114.5H703M707.5 91V126M704 114.5H707M708 114.5H711M715.5 89V113M712 114.5H715M716 111.5H719M723.5 97V128M720 111.5H723M724 122.5H727M731.5 103V125M728 122.5H731M732 108.5H735M739.5 80V147M736 108.5H739M740 91.5H743M747.5 45V101M744 91.5H747M748 51.5H751M755.5 28V84M752 51.5H755M756 71.5H759M763.5 41V78M760 71.5H763M764 49.5H767M771.5 46V70M768 49.5H771M772 57.5H775M779.5 47V69M776 57.5H779M780 48.5H783M787.5 31V64M784 48.5H787M788 39.5H791M795.5 18V59M792 39.5H795M796 44.5H799M803.5 38V113M800 44.5H803M804 102.5H807M811.5 91V114M808 102.5H811M812 105.5H815M819.5 95V113M816 105.5H819M820 104.5H823M827.5 85V110M824 104.5H827M828 100.5H831M835.5 93V122M832 100.5H835M836 113.5H839M843.5 110V136M840 113.5H843M844 128.5H847" stroke="#000" stroke-width="1" fill="none" shape-rendering="crispEdges"/>
<path d="M19.5 123L13.5 132L19.5 129.5Z" fill="#707070" stroke="#707070" stroke-width="0.6"/>
<path d="M19.5 123L25.5 132L19.5 129.5Z" fill="#f4f4f4" stroke="#909090" stroke-width="0.8"/>
<path d="M83.5 130L77.5 139L83.5 136.5Z" fill="#707070" stroke="#707070" stroke-width="0.6"/>
<path d="M83.5 130L89.5 139L83.5 136.5Z" fill="#f4f4f4" stroke="#909090" stroke-width="0.8"/>
<path d="M123.5 118L117.5 127L123.5 124.5Z" fill="#707070" stroke="#707070" stroke-width="0.6"/>
<path d="M123.5 118L129.5 127L123.5 124.5Z" fill="#f4f4f4" stroke="#909090" stroke-width="0.8"/>
<path d="M163.5 128L157.5 137L163.5 134.5Z" fill="#707070" stroke="#707070" stroke-width="0.6"/>
<path d="M163.5 128L169.5 137L163.5 134.5Z" fill="#f4f4f4" stroke="#909090" stroke-width="0.8"/>
<path d="M219.5 191L213.5 200L219.5 197.5Z" fill="#707070" stroke="#707070" stroke-width="0.6"/>
<path d="M219.5 191L225.5 200L219.5 197.5Z" fill="#f4f4f4" stroke="#909090" stroke-width="0.8"/>
<path d="M275.5 149L269.5 158L275.5 155.5Z" fill="#707070" stroke="#707070" stroke-width="0.6"/>
<path d="M275.5 149L281.5 158L275.5 155.5Z" fill="#f4f4f4" stroke="#909090" stroke-width="0.8"/>
<path d="M307.5 143L301.5 152L307.5 149.5Z" fill="#707070" stroke="#707070" stroke-width="0.6"/>
<path d="M307.5 143L313.5 152L307.5 149.5Z" fill="#f4f4f4" stroke="#909090" stroke-width="0.8"/>
<path d="M371.5 112L365.5 121L371.5 118.5Z" fill="#707070" stroke="#707070" stroke-width="0.6"/>
<path d="M371.5 112L377.5 121L371.5 118.5Z" fill="#f4f4f4" stroke="#909090" stroke-width="0.8"/>
<path d="M411.5 128L405.5 137L411.5 134.5Z" fill="#707070" stroke="#707070" stroke-width="0.6"/>
<path d="M411.5 128L417.5 137L411.5 134.5Z" fill="#f4f4f4" stroke="#909090" stroke-width="0.8"/>
<path d="M467.5 112L461.5 121L467.5 118.5Z" fill="#707070" stroke="#707070" stroke-width="0.6"/>
<path d="M467.5 112L473.5 121L467.5 118.5Z" fill="#f4f4f4" stroke="#909090" stroke-width="0.8"/>
<path d="M499.5 93L493.5 102L499.5 99.5Z" fill="#707070" stroke="#707070" stroke-width="0.6"/>
<path d="M499.5 93L505.5 102L499.5 99.5Z" fill="#f4f4f4" stroke="#909090" stroke-width="0.8"/>
<path d="M555.5 73L549.5 82L555.5 79.5Z" fill="#707070" stroke="#707070" stroke-width="0.6"/>
<path d="M555.5 73L561.5 82L555.5 79.5Z" fill="#f4f4f4" stroke="#909090" stroke-width="0.8"/>
<path d="M595.5 87L589.5 96L595.5 93.5Z" fill="#707070" stroke="#707070" stroke-width="0.6"/>
<path d="M595.5 87L601.5 96L595.5 93.5Z" fill="#f4f4f4" stroke="#909090" stroke-width="0.8"/>
<path d="M627.5 84L621.5 93L627.5 90.5Z" fill="#707070" stroke="#707070" stroke-width="0.6"/>
<path d="M627.5 84L633.5 93L627.5 90.5Z" fill="#f4f4f4" stroke="#909090" stroke-width="0.8"/>
<path d="M667.5 85L661.5 94L667.5 91.5Z" fill="#707070" stroke="#707070" stroke-width="0.6"/>
<path d="M667.5 85L673.5 94L667.5 91.5Z" fill="#f4f4f4" stroke="#909090" stroke-width="0.8"/>
<path d="M691.5 69L685.5 78L691.5 75.5Z" fill="#707070" stroke="#707070" stroke-width="0.6"/>
<path d="M691.5 69L697.5 78L691.5 75.5Z" fill="#f4f4f4" stroke="#909090" stroke-width="0.8"/>
<path d="M755.5 14L749.5 23L755.5 20.5Z" fill="#707070" stroke="#707070" stroke-width="0.6"/>
<path d="M755.5 14L761.5 23L755.5 20.5Z" fill="#f4f4f4" stroke="#909090" stroke-width="0.8"/>
<path d="M795.5 4L789.5 13L795.5 10.5Z" fill="#707070" stroke="#707070" stroke-width="0.6"/>
<path d="M795.5 4L801.5 13L795.5 10.5Z" fill="#f4f4f4" stroke="#909090" stroke-width="0.8"/>
<path d="M827.5 71L821.5 80L827.5 77.5Z" fill="#707070" stroke="#707070" stroke-width="0.6"/>
<path d="M827.5 71L833.5 80L827.5 77.5Z" fill="#f4f4f4" stroke="#909090" stroke-width="0.8"/>
<path d="M27.5 205L33.5 196L27.5 198.5Z" fill="#707070" stroke="#707070" stroke-width="0.6"/>
<path d="M27.5 205L21.5 196L27.5 198.5Z" fill="#f4f4f4" stroke="#909090" stroke-width="0.8"/>
<path d="M107.5 231L113.5 222L107.5 224.5Z" fill="#707070" stroke="#707070" stroke-width="0.6"/>
<path d="M107.5 231L101.5 222L107.5 224.5Z" fill="#f4f4f4" stroke="#909090" stroke-width="0.8"/>
<path d="M171.5 272L177.5 263L171.5 265.5Z" fill="#707070" stroke="#707070" stroke-width="0.6"/>
<path d="M171.5 272L165.5 263L171.5 265.5Z" fill="#f4f4f4" stroke="#909090" stroke-width="0.8"/>
<path d="M227.5 302L233.5 293L227.5 295.5Z" fill="#707070" stroke="#707070" stroke-width="0.6"/>
<path d="M227.5 302L221.5 293L227.5 295.5Z" fill="#f4f4f4" stroke="#909090" stroke-width="0.8"/>
<path d="M267.5 278L273.5 269L267.5 271.5Z" fill="#707070" stroke="#707070" stroke-width="0.6"/>
<path d="M267.5 278L261.5 269L267.5 271.5Z" fill="#f4f4f4" stroke="#909090" stroke-width="0.8"/>
<path d="M307.5 211L313.5 202L307.5 204.5Z" fill="#707070" stroke="#707070" stroke-width="0.6"/>
<path d="M307.5 211L301.5 202L307.5 204.5Z" fill="#f4f4f4" stroke="#909090" stroke-width="0.8"/>
<path d="M347.5 225L353.5 216L347.5 218.5Z" fill="#707070" stroke="#707070" stroke-width="0.6"/>
<path d="M347.5 225L341.5 216L347.5 218.5Z" fill="#f4f4f4" stroke="#909090" stroke-width="0.8"/>
<path d="M419.5 199L425.5 190L419.5 192.5Z" fill="#707070" stroke="#707070" stroke-width="0.6"/>
<path d="M419.5 199L413.5 190L419.5 192.5Z" fill="#f4f4f4" stroke="#909090" stroke-width="0.8"/>
<path d="M451.5 188L457.5 179L451.5 181.5Z" fill="#707070" stroke="#707070" stroke-width="0.6"/>
<path d="M451.5 188L445.5 179L451.5 181.5Z" fill="#f4f4f4" stroke="#909090" stroke-width="0.8"/>
<path d="M547.5 207L553.5 198L547.5 200.5Z" fill="#707070" stroke="#707070" stroke-width="0.6"/>
<path d="M547.5 207L541.5 198L547.5 200.5Z" fill="#f4f4f4" stroke="#909090" stroke-width="0.8"/>
<path d="M611.5 156L617.5 147L611.5 149.5Z" fill="#707070" stroke="#707070" stroke-width="0.6"/>
<path d="M611.5 156L605.5 147L611.5 149.5Z" fill="#f4f4f4" stroke="#909090" stroke-width="0.8"/>
<path d="M651.5 176L657.5 167L651.5 169.5Z" fill="#707070" stroke="#707070" stroke-width="0.6"/>
<path d="M651.5 176L645.5 167L651.5 169.5Z" fill="#f4f4f4" stroke="#909090" stroke-width="0.8"/>
<path d="M699.5 141L705.5 132L699.5 134.5Z" fill="#707070" stroke="#707070" stroke-width="0.6"/>
<path d="M699.5 141L693.5 132L699.5 134.5Z" fill="#f4f4f4" stroke="#909090" stroke-width="0.8"/>
<path d="M739.5 159L745.5 150L739.5 152.5Z" fill="#707070" stroke="#707070" stroke-width="0.6"/>
<path d="M739.5 159L733.5 150L739.5 152.5Z" fill="#f4f4f4" stroke="#909090" stroke-width="0.8"/>
<path d="M811.5 126L817.5 117L811.5 119.5Z" fill="#707070" stroke="#707070" stroke-width="0.6"/>
<path d="M811.5 126L805.5 117L811.5 119.5Z" fill="#f4f4f4" stroke="#909090" stroke-width="0.8"/>
<line x1="854.3" y1="129.2" x2="864.681059279559" y2="139.8994966807725" stroke="#000" stroke-width="2.4"/><path d="M870.6 146L859.8433772356562 141.8065447772033L866.733357455019 135.12162349294053Z" fill="#000"/>
<line x1="887" y1="144.3" x2="920.2018479781001" y2="102.64677253656528" stroke="#000" stroke-width="2.4"/><path d="M925.5 96L922.7086955230076 107.20261662812409L915.2017524228869 101.21882140339012Z" fill="#000"/>
<line x1="907" y1="149.5" x2="930.0312040097128" y2="185.63228745002039" stroke="#000" stroke-width="2.4"/><path d="M934.6 192.8L924.9085437484803 186.52579282101092L933.0038426284573 181.36574087903946Z" fill="#000"/>
<line x1="1020" y1="199.2" x2="1034.1544521560008" y2="222.99478173252058" stroke="#000" stroke-width="2.4"/><path d="M1038.5 230.3L1029.0066705828363 223.72986327560722L1037.2572700378719 218.82195041650243Z" fill="#000"/>
<path d="M3.5 322V336M11.5 321V336M83.5 335V340M91.5 335V340M123.5 335V346M131.5 335V344M139.5 335V341M147.5 335V336M155.5 333V336M163.5 332V336M219.5 335V365M251.5 335V368M267.5 335V365M275.5 335V360M283.5 335V351M291.5 335V342M299.5 335V336M307.5 327V336M315.5 324V336M339.5 326V336M363.5 327V336M371.5 323V336M379.5 320V336M387.5 317V336M395.5 313V336M403.5 310V336M459.5 317V336M467.5 317V336M475.5 316V336M483.5 314V336M491.5 313V336M499.5 312V336M555.5 335V336M563.5 329V336M571.5 324V336M579.5 319V336M587.5 315V336M627.5 321V336M683.5 325V336M691.5 321V336M699.5 320V336M747.5 324V336M755.5 320V336M763.5 314V336M771.5 309V336M779.5 304V336M787.5 303V336M3.5 411V414M11.5 409V414M67.5 413V424M75.5 413V419M83.5 413V415M91.5 413V414M123.5 413V417M131.5 413V414M139.5 406V414M147.5 400V414M155.5 398V414M211.5 413V434M219.5 413V424M227.5 413V422M235.5 413V418M243.5 413V419M251.5 413V415M259.5 413V414M267.5 408V414M275.5 400V414M283.5 390V414M291.5 383V414M299.5 381V414M307.5 381V414M371.5 407V414M379.5 404V414M387.5 400V414M395.5 399V414M459.5 413V415M475.5 411V414M483.5 409V414M491.5 408V414M547.5 413V433M555.5 413V416M563.5 404V414M571.5 395V414M579.5 392V414M627.5 413V416M635.5 413V415M675.5 413V417M683.5 412V414M691.5 405V414M755.5 406V414M763.5 399V414M771.5 395V414M779.5 393V414M843.5 413V440" stroke="#008000" stroke-width="1" fill="none" shape-rendering="crispEdges"/>
<path d="M19.5 321V336M27.5 326V336M35.5 328V336M43.5 332V336M51.5 334V336M59.5 335V340M67.5 335V340M75.5 335V341M99.5 335V341M107.5 335V345M115.5 335V347M171.5 335V336M179.5 335V342M187.5 335V348M195.5 335V356M203.5 335V363M211.5 335V365M227.5 335V368M235.5 335V368M243.5 335V370M259.5 335V368M323.5 325V336M331.5 327V336M347.5 328V336M355.5 329V336M411.5 311V336M419.5 314V336M427.5 314V336M435.5 315V336M443.5 317V336M451.5 319V336M507.5 313V336M515.5 318V336M523.5 324V336M531.5 330V336M539.5 335V337M547.5 335V339M595.5 317V336M603.5 318V336M611.5 320V336M619.5 321V336M635.5 321V336M643.5 323V336M651.5 324V336M659.5 325V336M667.5 327V336M675.5 327V336M707.5 320V336M715.5 321V336M723.5 322V336M731.5 325V336M739.5 327V336M795.5 303V336M803.5 307V336M811.5 313V336M819.5 320V336M827.5 326V336M835.5 334V336M843.5 335V339M19.5 412V414M27.5 413V419M35.5 413V422M43.5 413V426M51.5 413V428M59.5 413V429M99.5 413V415M107.5 413V420M115.5 413V422M163.5 402V414M171.5 413V414M179.5 413V426M187.5 413V434M195.5 413V439M203.5 413V441M315.5 389V414M323.5 403V414M331.5 412V414M339.5 413V414M347.5 413V417M355.5 413V417M403.5 401V414M411.5 408V414M419.5 413V414M427.5 413V417M435.5 413V417M443.5 413V418M451.5 413V419M499.5 409V414M507.5 413V414M515.5 413V420M523.5 413V428M531.5 413V435M539.5 413V439M587.5 395V414M595.5 406V414M611.5 413V417M619.5 413V418M643.5 413V417M651.5 413V417M659.5 413V418M667.5 413V418M699.5 405V414M707.5 409V414M715.5 413V414M723.5 413V416M731.5 413V420M739.5 413V420M787.5 400V414M795.5 407V414M803.5 413V416M811.5 413V428M819.5 413V434M827.5 413V437M835.5 413V441" stroke="#ff0000" stroke-width="1" fill="none" shape-rendering="crispEdges"/>
<path d="M2.5 2.5H1072.5V295.5H2.5ZM2.5 297.5H1072.5V373.5H2.5ZM2.5 375.5H1072.5V445.5H2.5Z" stroke="#000" stroke-width="1" fill="none" shape-rendering="crispEdges"/>
<text x="1079" y="31.1" textLength="32.5" lengthAdjust="spacingAndGlyphs">1.58020</text>
<text x="1079" y="64.1" textLength="32.5" lengthAdjust="spacingAndGlyphs">1.57540</text>
<text x="1079" y="97.1" textLength="32.5" lengthAdjust="spacingAndGlyphs">1.57060</text>
<text x="1079" y="262.1" textLength="32.5" lengthAdjust="spacingAndGlyphs">1.54650</text>
<text x="1079" y="295.1" textLength="32.5" lengthAdjust="spacingAndGlyphs">1.54170</text>
<rect x="1074" y="122" width="41" height="11" fill="#000"/>
<text x="1077" y="131.2" style="fill:#fff;stroke:#fff" textLength="33" lengthAdjust="spacingAndGlyphs">1.56573</text>
<rect x="1074" y="139" width="41" height="11" fill="#ff0000"/>
<text x="1077" y="148.2" style="fill:#fff;stroke:#fff" textLength="33" lengthAdjust="spacingAndGlyphs">1.56311</text>
<rect x="1074" y="156" width="41" height="11" fill="#ff0000"/>
<text x="1077" y="165.2" style="fill:#fff;stroke:#fff" textLength="33" lengthAdjust="spacingAndGlyphs">1.56064</text>
<rect x="1074" y="188" width="41" height="11" fill="#ff0000"/>
<text x="1077" y="197.2" style="fill:#fff;stroke:#fff" textLength="33" lengthAdjust="spacingAndGlyphs">1.55607</text>
<rect x="1074" y="222" width="41" height="11" fill="#ff0000"/>
<text x="1077" y="231.2" style="fill:#fff;stroke:#fff" textLength="33" lengthAdjust="spacingAndGlyphs">1.55113</text>
<text x="1076" y="307.9" textLength="32.7" lengthAdjust="spacingAndGlyphs">0.00905</text>
<text x="1076" y="337.9" textLength="17.5" lengthAdjust="spacingAndGlyphs">0.00</text>
<text x="1076" y="369.9" textLength="41" lengthAdjust="spacingAndGlyphs">-0.009225</text>
<text x="1076" y="385.9" textLength="37.5" lengthAdjust="spacingAndGlyphs">0.004477</text>
<text x="1076" y="415.9" textLength="17.5" lengthAdjust="spacingAndGlyphs">0.00</text>
<text x="1076" y="441.9" textLength="41" lengthAdjust="spacingAndGlyphs">-0.003890</text>
<path d="M1073 28.5H1076M1073 61.5H1076M1073 94.5H1076M1073 259.5H1076M1073 292.5H1076M1073 335.5H1076M1073 413.5H1076" stroke="#000" stroke-width="1" shape-rendering="crispEdges"/>
<text x="2" y="458" textLength="48" lengthAdjust="spacingAndGlyphs">3 Aug 2015</text>
<text x="66" y="458" textLength="50.3" lengthAdjust="spacingAndGlyphs">4 Aug 08:00</text>
<text x="130" y="458" textLength="50.3" lengthAdjust="spacingAndGlyphs">5 Aug 16:00</text>
<text x="194" y="458" textLength="50.3" lengthAdjust="spacingAndGlyphs">7 Aug 00:00</text>
<text x="258" y="458" textLength="56" lengthAdjust="spacingAndGlyphs">10 Aug 08:00</text>
<text x="322" y="458" textLength="56" lengthAdjust="spacingAndGlyphs">11 Aug 16:00</text>
<text x="386" y="458" textLength="56" lengthAdjust="spacingAndGlyphs">13 Aug 00:00</text>
<text x="450" y="458" textLength="56" lengthAdjust="spacingAndGlyphs">14 Aug 08:00</text>
<text x="514" y="458" textLength="56" lengthAdjust="spacingAndGlyphs">17 Aug 16:00</text>
<text x="578" y="458" textLength="56" lengthAdjust="spacingAndGlyphs">19 Aug 00:00</text>
<text x="642" y="458" textLength="56" lengthAdjust="spacingAndGlyphs">20 Aug 08:00</text>
<text x="706" y="458" textLength="56" lengthAdjust="spacingAndGlyphs">21 Aug 16:00</text>
<text x="770" y="458" textLength="56" lengthAdjust="spacingAndGlyphs">25 Aug 00:00</text>
<text x="834" y="458" textLength="56" lengthAdjust="spacingAndGlyphs">26 Aug 08:00</text>
<path d="M3.5 446V449M67.5 446V449M131.5 446V449M195.5 446V449M259.5 446V449M323.5 446V449M387.5 446V449M451.5 446V449M515.5 446V449M579.5 446V449M643.5 446V449M707.5 446V449M771.5 446V449M835.5 446V449" stroke="#000" stroke-width="1" shape-rendering="crispEdges"/>
<path d="M6 9H13L9.5 12.5Z" fill="#000"/>
<text x="18" y="13.7" textLength="201" lengthAdjust="spacingAndGlyphs" xml:space="preserve">GBPUSD,H4  1.56782 1.56829 1.56475 1.56573</text>
<text x="8" y="310" textLength="58" lengthAdjust="spacingAndGlyphs">AO -0.000898</text>
<text x="8" y="388" textLength="62.5" lengthAdjust="spacingAndGlyphs">AC -0.0032843</text>
</svg></body></html>
